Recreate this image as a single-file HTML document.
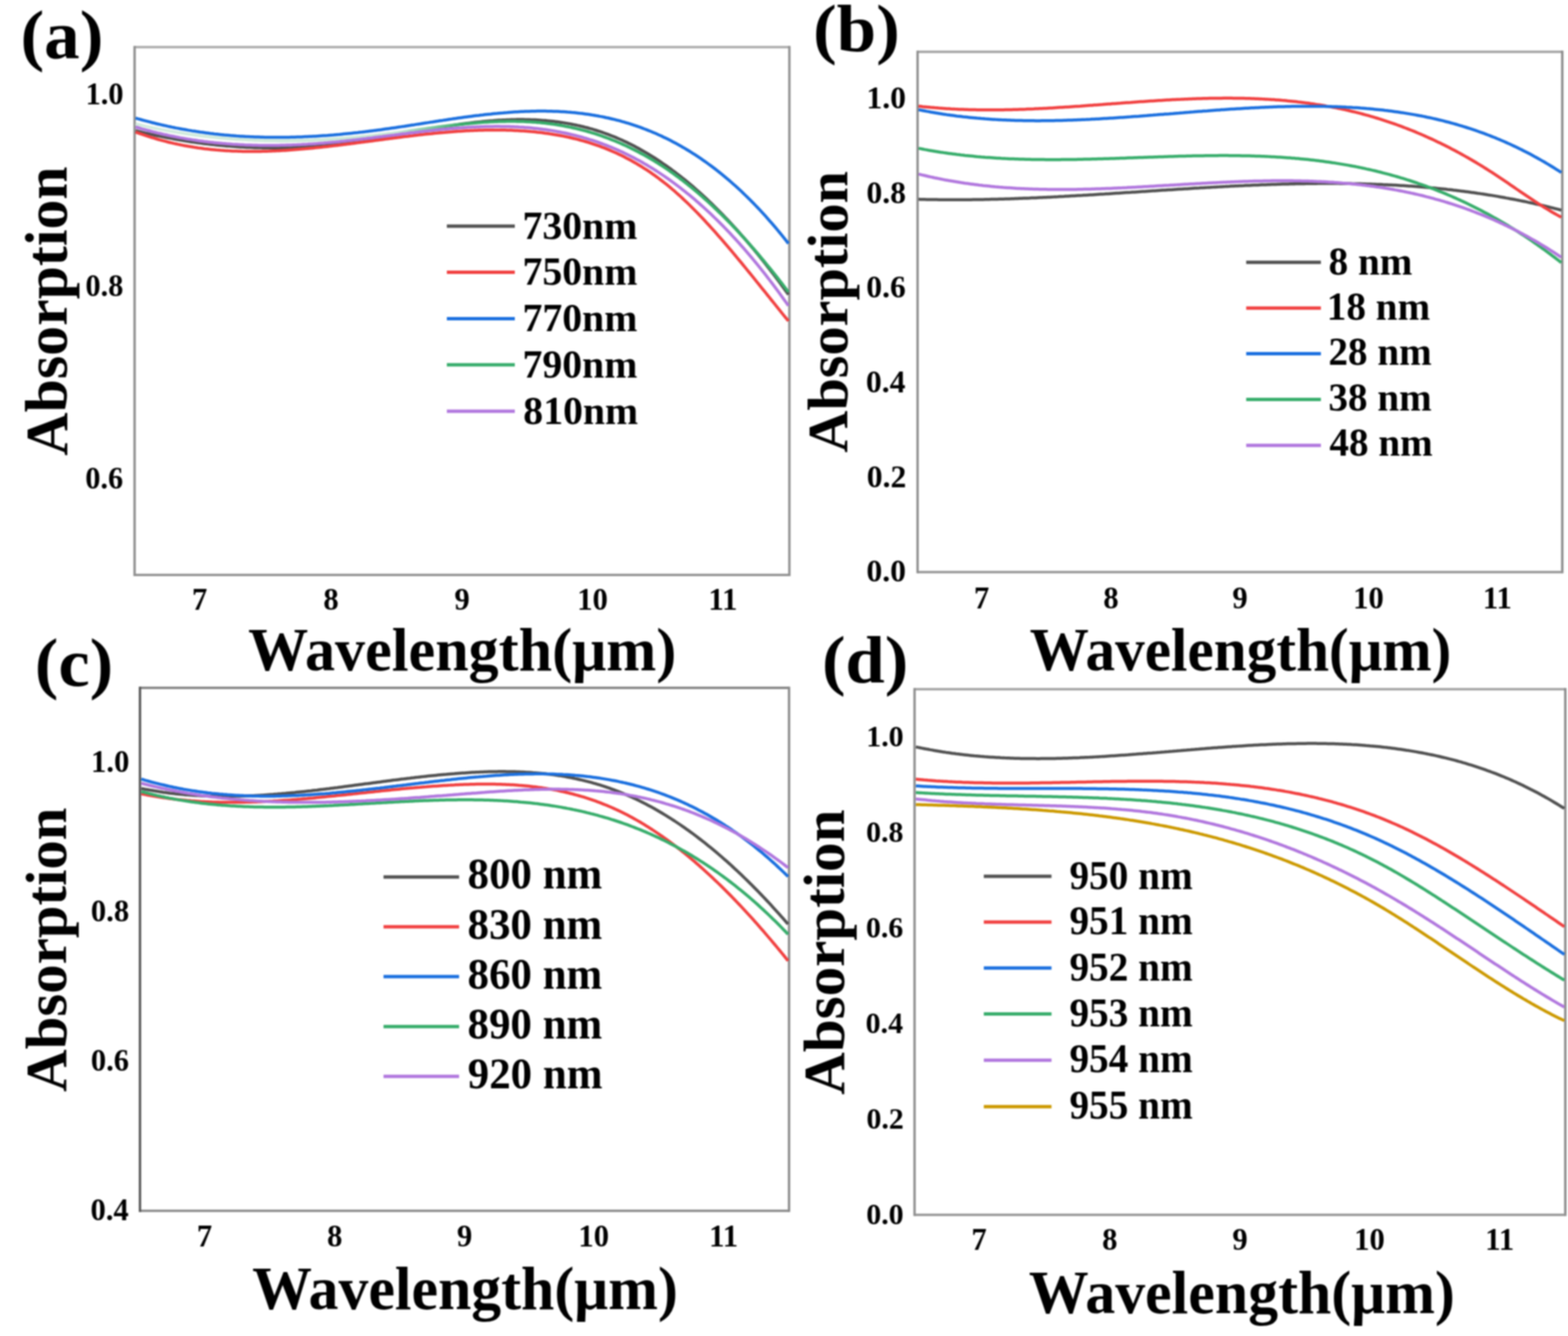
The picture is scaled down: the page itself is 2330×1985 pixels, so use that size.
<!DOCTYPE html>
<html><head><meta charset="utf-8"><title>Absorption spectra</title>
<style>html,body{margin:0;padding:0;background:#fff;} svg{display:block;filter:blur(0.8px)} text{font-family:'Liberation Serif', 'Times New Roman', serif;font-weight:bold;fill:#000}</style>
</head><body>
<svg xmlns="http://www.w3.org/2000/svg" width="2330" height="1985" viewBox="0 0 2330 1985">
<rect width="2330" height="1985" fill="#fff"/>
<path d="M200,70H1173" stroke="#a8a8a8" stroke-width="3.5" fill="none"/>
<path d="M1173,68.25V856.05" stroke="#909090" stroke-width="3.5" fill="none"/>
<path d="M200,854.3H1173" stroke="#909090" stroke-width="3.5" fill="none"/>
<path d="M200,68.25V856.05" stroke="#8e8e8e" stroke-width="3.5" fill="none"/>
<defs><linearGradient id="ga" gradientUnits="userSpaceOnUse" x1="200" y1="0" x2="1173" y2="0"><stop offset="0" stop-color="#d3ecdf"/><stop offset="0.40" stop-color="#c8e8d6"/><stop offset="0.50" stop-color="#37AD6B"/><stop offset="1" stop-color="#37AD6B"/></linearGradient></defs>
<path d="M201.5,194.3 L204.5,195.0 L207.5,195.7 L210.5,196.5 L213.5,197.2 L216.5,197.9 L219.5,198.5 L222.5,199.2 L225.5,199.9 L228.5,200.5 L231.5,201.2 L234.5,201.8 L237.5,202.4 L240.5,203.0 L243.5,203.6 L246.5,204.2 L249.5,204.8 L252.5,205.4 L255.5,205.9 L258.5,206.5 L261.5,207.0 L264.5,207.5 L267.5,208.1 L270.5,208.6 L273.5,209.0 L276.5,209.5 L279.5,210.0 L282.5,210.5 L285.5,210.9 L288.5,211.3 L291.5,211.8 L294.5,212.2 L297.5,212.6 L300.5,213.0 L303.5,213.4 L306.5,213.7 L309.5,214.1 L312.5,214.4 L315.5,214.8 L318.5,215.1 L321.5,215.4 L324.5,215.7 L327.5,216.0 L330.5,216.3 L333.5,216.6 L336.5,216.9 L339.5,217.1 L342.5,217.3 L345.5,217.6 L348.5,217.8 L351.5,218.0 L354.5,218.2 L357.5,218.4 L360.5,218.6 L363.5,218.7 L366.5,218.9 L369.5,219.0 L372.5,219.1 L375.5,219.3 L378.5,219.4 L381.5,219.5 L384.5,219.6 L387.5,219.6 L390.5,219.7 L393.5,219.7 L396.5,219.8 L399.5,219.8 L402.5,219.8 L405.5,219.8 L408.5,219.8 L411.5,219.8 L414.5,219.8 L417.5,219.8 L420.5,219.7 L423.5,219.7 L426.5,219.6 L429.5,219.5 L432.5,219.4 L435.5,219.3 L438.5,219.2 L441.5,219.1 L444.5,218.9 L447.5,218.8 L450.5,218.6 L453.5,218.5 L456.5,218.3 L459.5,218.1 L462.5,217.9 L465.5,217.7 L468.5,217.5 L471.5,217.2 L474.5,217.0 L477.5,216.7 L480.5,216.4 L483.5,216.2 L486.5,215.9 L489.5,215.6 L492.5,215.3 L495.5,214.9 L498.5,214.6 L501.5,214.2 L504.5,213.9 L507.5,213.5 L510.5,213.1 L513.5,212.7 L516.5,212.3 L519.5,211.9 L522.5,211.5 L525.5,211.1 L528.5,210.6 L531.5,210.2 L534.5,209.7 L537.5,209.3 L540.5,208.8 L543.5,208.3 L546.5,207.9 L549.5,207.4 L552.5,206.9 L555.5,206.4 L558.5,205.9 L561.5,205.4 L564.5,204.9 L567.5,204.4 L570.5,203.8 L573.5,203.3 L576.5,202.8 L579.5,202.3 L582.5,201.7 L585.5,201.2 L588.5,200.6 L591.5,200.1 L594.5,199.6 L597.5,199.0 L600.5,198.5 L603.5,198.0 L606.5,197.4 L609.5,196.9 L612.5,196.3 L615.5,195.8 L618.5,195.3 L621.5,194.7 L624.5,194.2 L627.5,193.7 L630.5,193.1 L633.5,192.6 L636.5,192.1 L639.5,191.6 L642.5,191.1 L645.5,190.6 L648.5,190.1 L651.5,189.6 L654.5,189.1 L657.5,188.6 L660.5,188.1 L663.5,187.6 L666.5,187.2 L669.5,186.7 L672.5,186.2 L675.5,185.8 L678.5,185.4 L681.5,184.9 L684.5,184.5 L687.5,184.1 L690.5,183.7 L693.5,183.3 L696.5,182.9 L699.5,182.6 L702.5,182.2 L705.5,181.8 L708.5,181.5 L711.5,181.2 L714.5,180.9 L717.5,180.6 L720.5,180.3 L723.5,180.0 L726.5,179.7 L729.5,179.5 L732.5,179.3 L735.5,179.0 L738.5,178.8 L741.5,178.6 L744.5,178.5 L747.5,178.3 L750.5,178.2 L753.5,178.0 L756.5,177.9 L759.5,177.8 L762.5,177.7 L765.5,177.7 L768.5,177.6 L771.5,177.6 L774.5,177.6 L777.5,177.6 L780.5,177.7 L783.5,177.7 L786.5,177.8 L789.5,177.9 L792.5,178.0 L795.5,178.1 L798.5,178.3 L801.5,178.5 L804.5,178.7 L807.5,178.9 L810.5,179.1 L813.5,179.4 L816.5,179.7 L819.5,180.0 L822.5,180.3 L825.5,180.7 L828.5,181.1 L831.5,181.5 L834.5,181.9 L837.5,182.4 L840.5,182.9 L843.5,183.4 L846.5,183.9 L849.5,184.5 L852.5,185.1 L855.5,185.7 L858.5,186.4 L861.5,187.0 L864.5,187.8 L867.5,188.5 L870.5,189.3 L873.5,190.0 L876.5,190.9 L879.5,191.7 L882.5,192.6 L885.5,193.5 L888.5,194.5 L891.5,195.4 L894.5,196.4 L897.5,197.5 L900.5,198.6 L903.5,199.7 L906.5,200.8 L909.5,202.0 L912.5,203.2 L915.5,204.4 L918.5,205.7 L921.5,207.0 L924.5,208.3 L927.5,209.7 L930.5,211.1 L933.5,212.6 L936.5,214.0 L939.5,215.6 L942.5,217.1 L945.5,218.7 L948.5,220.3 L951.5,222.0 L954.5,223.7 L957.5,225.4 L960.5,227.1 L963.5,228.9 L966.5,230.8 L969.5,232.6 L972.5,234.5 L975.5,236.4 L978.5,238.4 L981.5,240.4 L984.5,242.5 L987.5,244.5 L990.5,246.6 L993.5,248.8 L996.5,250.9 L999.5,253.2 L1002.5,255.4 L1005.5,257.7 L1008.5,260.0 L1011.5,262.3 L1014.5,264.7 L1017.5,267.1 L1020.5,269.6 L1023.5,272.1 L1026.5,274.6 L1029.5,277.1 L1032.5,279.7 L1035.5,282.4 L1038.5,285.0 L1041.5,287.7 L1044.5,290.4 L1047.5,293.2 L1050.5,296.0 L1053.5,298.8 L1056.5,301.7 L1059.5,304.6 L1062.5,307.5 L1065.5,310.5 L1068.5,313.5 L1071.5,316.6 L1074.5,319.6 L1077.5,322.7 L1080.5,325.9 L1083.5,329.1 L1086.5,332.3 L1089.5,335.5 L1092.5,338.8 L1095.5,342.1 L1098.5,345.5 L1101.5,348.9 L1104.5,352.3 L1107.5,355.7 L1110.5,359.2 L1113.5,362.7 L1116.5,366.3 L1119.5,369.9 L1122.5,373.5 L1125.5,377.2 L1128.5,380.9 L1131.5,384.6 L1134.5,388.4 L1137.5,392.2 L1140.5,396.0 L1143.5,399.9 L1146.5,403.8 L1149.5,407.7 L1152.5,411.7 L1155.5,415.7 L1158.5,419.7 L1161.5,423.8 L1164.5,427.9 L1167.5,432.1 L1170.5,436.3 L1171.5,437.7" stroke="#515151" stroke-width="4.5" fill="none" stroke-linejoin="round"/>
<path d="M201.5,196.1 L204.5,197.3 L207.5,198.3 L210.5,199.4 L213.5,200.4 L216.5,201.4 L219.5,202.4 L222.5,203.4 L225.5,204.3 L228.5,205.2 L231.5,206.1 L234.5,207.0 L237.5,207.8 L240.5,208.6 L243.5,209.4 L246.5,210.2 L249.5,211.0 L252.5,211.7 L255.5,212.4 L258.5,213.1 L261.5,213.7 L264.5,214.4 L267.5,215.0 L270.5,215.6 L273.5,216.2 L276.5,216.7 L279.5,217.3 L282.5,217.8 L285.5,218.3 L288.5,218.8 L291.5,219.2 L294.5,219.7 L297.5,220.1 L300.5,220.5 L303.5,220.9 L306.5,221.2 L309.5,221.6 L312.5,221.9 L315.5,222.2 L318.5,222.5 L321.5,222.8 L324.5,223.0 L327.5,223.3 L330.5,223.5 L333.5,223.7 L336.5,223.9 L339.5,224.1 L342.5,224.2 L345.5,224.4 L348.5,224.5 L351.5,224.6 L354.5,224.7 L357.5,224.8 L360.5,224.9 L363.5,224.9 L366.5,225.0 L369.5,225.0 L372.5,225.0 L375.5,225.0 L378.5,225.0 L381.5,225.0 L384.5,224.9 L387.5,224.9 L390.5,224.8 L393.5,224.7 L396.5,224.7 L399.5,224.6 L402.5,224.4 L405.5,224.3 L408.5,224.2 L411.5,224.1 L414.5,223.9 L417.5,223.7 L420.5,223.6 L423.5,223.4 L426.5,223.2 L429.5,223.0 L432.5,222.8 L435.5,222.6 L438.5,222.3 L441.5,222.1 L444.5,221.8 L447.5,221.6 L450.5,221.3 L453.5,221.1 L456.5,220.8 L459.5,220.5 L462.5,220.2 L465.5,219.9 L468.5,219.6 L471.5,219.3 L474.5,219.0 L477.5,218.7 L480.5,218.3 L483.5,218.0 L486.5,217.7 L489.5,217.3 L492.5,217.0 L495.5,216.6 L498.5,216.3 L501.5,215.9 L504.5,215.5 L507.5,215.2 L510.5,214.8 L513.5,214.4 L516.5,214.1 L519.5,213.7 L522.5,213.3 L525.5,212.9 L528.5,212.5 L531.5,212.1 L534.5,211.7 L537.5,211.3 L540.5,211.0 L543.5,210.6 L546.5,210.2 L549.5,209.8 L552.5,209.4 L555.5,209.0 L558.5,208.6 L561.5,208.2 L564.5,207.8 L567.5,207.4 L570.5,207.0 L573.5,206.6 L576.5,206.2 L579.5,205.8 L582.5,205.4 L585.5,205.0 L588.5,204.7 L591.5,204.3 L594.5,203.9 L597.5,203.5 L600.5,203.1 L603.5,202.8 L606.5,202.4 L609.5,202.0 L612.5,201.7 L615.5,201.3 L618.5,201.0 L621.5,200.6 L624.5,200.3 L627.5,200.0 L630.5,199.6 L633.5,199.3 L636.5,199.0 L639.5,198.7 L642.5,198.4 L645.5,198.1 L648.5,197.8 L651.5,197.5 L654.5,197.2 L657.5,196.9 L660.5,196.7 L663.5,196.4 L666.5,196.2 L669.5,195.9 L672.5,195.7 L675.5,195.5 L678.5,195.3 L681.5,195.1 L684.5,194.9 L687.5,194.7 L690.5,194.5 L693.5,194.3 L696.5,194.2 L699.5,194.0 L702.5,193.9 L705.5,193.8 L708.5,193.7 L711.5,193.6 L714.5,193.5 L717.5,193.4 L720.5,193.3 L723.5,193.3 L726.5,193.2 L729.5,193.2 L732.5,193.2 L735.5,193.2 L738.5,193.2 L741.5,193.2 L744.5,193.2 L747.5,193.3 L750.5,193.3 L753.5,193.4 L756.5,193.5 L759.5,193.6 L762.5,193.7 L765.5,193.9 L768.5,194.0 L771.5,194.2 L774.5,194.4 L777.5,194.6 L780.5,194.8 L783.5,195.0 L786.5,195.3 L789.5,195.6 L792.5,195.8 L795.5,196.1 L798.5,196.5 L801.5,196.8 L804.5,197.1 L807.5,197.5 L810.5,197.9 L813.5,198.3 L816.5,198.8 L819.5,199.2 L822.5,199.7 L825.5,200.2 L828.5,200.7 L831.5,201.2 L834.5,201.8 L837.5,202.4 L840.5,203.0 L843.5,203.6 L846.5,204.3 L849.5,205.0 L852.5,205.7 L855.5,206.4 L858.5,207.2 L861.5,208.0 L864.5,208.8 L867.5,209.6 L870.5,210.5 L873.5,211.4 L876.5,212.3 L879.5,213.3 L882.5,214.3 L885.5,215.3 L888.5,216.4 L891.5,217.4 L894.5,218.6 L897.5,219.7 L900.5,220.9 L903.5,222.1 L906.5,223.4 L909.5,224.7 L912.5,226.0 L915.5,227.3 L918.5,228.7 L921.5,230.1 L924.5,231.6 L927.5,233.1 L930.5,234.7 L933.5,236.2 L936.5,237.8 L939.5,239.5 L942.5,241.2 L945.5,242.9 L948.5,244.7 L951.5,246.5 L954.5,248.4 L957.5,250.3 L960.5,252.2 L963.5,254.2 L966.5,256.2 L969.5,258.3 L972.5,260.4 L975.5,262.6 L978.5,264.8 L981.5,267.1 L984.5,269.4 L987.5,271.7 L990.5,274.1 L993.5,276.5 L996.5,279.0 L999.5,281.6 L1002.5,284.1 L1005.5,286.8 L1008.5,289.5 L1011.5,292.2 L1014.5,295.0 L1017.5,297.8 L1020.5,300.6 L1023.5,303.5 L1026.5,306.5 L1029.5,309.5 L1032.5,312.5 L1035.5,315.5 L1038.5,318.6 L1041.5,321.8 L1044.5,324.9 L1047.5,328.1 L1050.5,331.4 L1053.5,334.6 L1056.5,337.9 L1059.5,341.2 L1062.5,344.6 L1065.5,348.0 L1068.5,351.4 L1071.5,354.8 L1074.5,358.3 L1077.5,361.8 L1080.5,365.3 L1083.5,368.8 L1086.5,372.3 L1089.5,375.9 L1092.5,379.5 L1095.5,383.1 L1098.5,386.7 L1101.5,390.3 L1104.5,394.0 L1107.5,397.6 L1110.5,401.3 L1113.5,405.0 L1116.5,408.7 L1119.5,412.4 L1122.5,416.1 L1125.5,419.8 L1128.5,423.5 L1131.5,427.3 L1134.5,431.0 L1137.5,434.7 L1140.5,438.5 L1143.5,442.2 L1146.5,446.0 L1149.5,449.7 L1152.5,453.4 L1155.5,457.2 L1158.5,460.9 L1161.5,464.6 L1164.5,468.3 L1167.5,472.0 L1170.5,475.7 L1171.5,477.0" stroke="#F14040" stroke-width="4.5" fill="none" stroke-linejoin="round"/>
<path d="M201.5,175.4 L204.5,176.3 L207.5,177.1 L210.5,178.0 L213.5,178.8 L216.5,179.6 L219.5,180.4 L222.5,181.2 L225.5,182.0 L228.5,182.7 L231.5,183.5 L234.5,184.2 L237.5,184.9 L240.5,185.6 L243.5,186.3 L246.5,186.9 L249.5,187.6 L252.5,188.2 L255.5,188.9 L258.5,189.5 L261.5,190.1 L264.5,190.6 L267.5,191.2 L270.5,191.8 L273.5,192.3 L276.5,192.8 L279.5,193.4 L282.5,193.9 L285.5,194.4 L288.5,194.8 L291.5,195.3 L294.5,195.7 L297.5,196.2 L300.5,196.6 L303.5,197.0 L306.5,197.4 L309.5,197.8 L312.5,198.2 L315.5,198.5 L318.5,198.9 L321.5,199.2 L324.5,199.6 L327.5,199.9 L330.5,200.2 L333.5,200.5 L336.5,200.7 L339.5,201.0 L342.5,201.3 L345.5,201.5 L348.5,201.7 L351.5,202.0 L354.5,202.2 L357.5,202.4 L360.5,202.5 L363.5,202.7 L366.5,202.9 L369.5,203.0 L372.5,203.2 L375.5,203.3 L378.5,203.4 L381.5,203.5 L384.5,203.6 L387.5,203.7 L390.5,203.8 L393.5,203.9 L396.5,203.9 L399.5,204.0 L402.5,204.0 L405.5,204.0 L408.5,204.0 L411.5,204.0 L414.5,204.0 L417.5,204.0 L420.5,204.0 L423.5,204.0 L426.5,203.9 L429.5,203.9 L432.5,203.8 L435.5,203.7 L438.5,203.7 L441.5,203.6 L444.5,203.5 L447.5,203.4 L450.5,203.2 L453.5,203.1 L456.5,203.0 L459.5,202.8 L462.5,202.7 L465.5,202.5 L468.5,202.4 L471.5,202.2 L474.5,202.0 L477.5,201.8 L480.5,201.6 L483.5,201.4 L486.5,201.2 L489.5,200.9 L492.5,200.7 L495.5,200.5 L498.5,200.2 L501.5,199.9 L504.5,199.7 L507.5,199.4 L510.5,199.1 L513.5,198.8 L516.5,198.5 L519.5,198.2 L522.5,197.9 L525.5,197.6 L528.5,197.3 L531.5,197.0 L534.5,196.6 L537.5,196.3 L540.5,195.9 L543.5,195.6 L546.5,195.2 L549.5,194.8 L552.5,194.4 L555.5,194.1 L558.5,193.7 L561.5,193.3 L564.5,192.9 L567.5,192.5 L570.5,192.0 L573.5,191.6 L576.5,191.2 L579.5,190.8 L582.5,190.3 L585.5,189.9 L588.5,189.5 L591.5,189.0 L594.5,188.6 L597.5,188.1 L600.5,187.7 L603.5,187.2 L606.5,186.7 L609.5,186.3 L612.5,185.8 L615.5,185.4 L618.5,184.9 L621.5,184.4 L624.5,184.0 L627.5,183.5 L630.5,183.0 L633.5,182.6 L636.5,182.1 L639.5,181.6 L642.5,181.2 L645.5,180.7 L648.5,180.2 L651.5,179.8 L654.5,179.3 L657.5,178.9 L660.5,178.4 L663.5,178.0 L666.5,177.5 L669.5,177.1 L672.5,176.6 L675.5,176.2 L678.5,175.8 L681.5,175.3 L684.5,174.9 L687.5,174.5 L690.5,174.1 L693.5,173.7 L696.5,173.3 L699.5,172.9 L702.5,172.5 L705.5,172.1 L708.5,171.7 L711.5,171.4 L714.5,171.0 L717.5,170.7 L720.5,170.3 L723.5,170.0 L726.5,169.7 L729.5,169.4 L732.5,169.0 L735.5,168.7 L738.5,168.5 L741.5,168.2 L744.5,167.9 L747.5,167.7 L750.5,167.4 L753.5,167.2 L756.5,166.9 L759.5,166.7 L762.5,166.5 L765.5,166.3 L768.5,166.2 L771.5,166.0 L774.5,165.8 L777.5,165.7 L780.5,165.6 L783.5,165.5 L786.5,165.4 L789.5,165.3 L792.5,165.2 L795.5,165.2 L798.5,165.1 L801.5,165.1 L804.5,165.1 L807.5,165.1 L810.5,165.1 L813.5,165.2 L816.5,165.2 L819.5,165.3 L822.5,165.4 L825.5,165.5 L828.5,165.6 L831.5,165.8 L834.5,166.0 L837.5,166.1 L840.5,166.3 L843.5,166.6 L846.5,166.8 L849.5,167.1 L852.5,167.3 L855.5,167.6 L858.5,167.9 L861.5,168.3 L864.5,168.6 L867.5,169.0 L870.5,169.4 L873.5,169.8 L876.5,170.3 L879.5,170.8 L882.5,171.2 L885.5,171.8 L888.5,172.3 L891.5,172.9 L894.5,173.4 L897.5,174.0 L900.5,174.7 L903.5,175.3 L906.5,176.0 L909.5,176.7 L912.5,177.4 L915.5,178.2 L918.5,178.9 L921.5,179.7 L924.5,180.6 L927.5,181.4 L930.5,182.3 L933.5,183.2 L936.5,184.1 L939.5,185.1 L942.5,186.1 L945.5,187.1 L948.5,188.2 L951.5,189.2 L954.5,190.3 L957.5,191.5 L960.5,192.6 L963.5,193.8 L966.5,195.0 L969.5,196.3 L972.5,197.5 L975.5,198.8 L978.5,200.2 L981.5,201.5 L984.5,202.9 L987.5,204.4 L990.5,205.8 L993.5,207.3 L996.5,208.8 L999.5,210.4 L1002.5,212.0 L1005.5,213.6 L1008.5,215.3 L1011.5,216.9 L1014.5,218.7 L1017.5,220.4 L1020.5,222.2 L1023.5,224.0 L1026.5,225.9 L1029.5,227.8 L1032.5,229.7 L1035.5,231.7 L1038.5,233.7 L1041.5,235.7 L1044.5,237.8 L1047.5,239.9 L1050.5,242.0 L1053.5,244.2 L1056.5,246.4 L1059.5,248.6 L1062.5,250.9 L1065.5,253.3 L1068.5,255.6 L1071.5,258.0 L1074.5,260.5 L1077.5,263.0 L1080.5,265.5 L1083.5,268.0 L1086.5,270.6 L1089.5,273.3 L1092.5,275.9 L1095.5,278.7 L1098.5,281.4 L1101.5,284.2 L1104.5,287.1 L1107.5,290.0 L1110.5,292.9 L1113.5,295.8 L1116.5,298.9 L1119.5,301.9 L1122.5,305.0 L1125.5,308.1 L1128.5,311.3 L1131.5,314.5 L1134.5,317.8 L1137.5,321.1 L1140.5,324.5 L1143.5,327.9 L1146.5,331.3 L1149.5,334.8 L1152.5,338.3 L1155.5,341.9 L1158.5,345.5 L1161.5,349.2 L1164.5,352.9 L1167.5,356.7 L1170.5,360.5 L1171.5,361.8" stroke="#1A6FDF" stroke-width="4.5" fill="none" stroke-linejoin="round"/>
<path d="M201.5,184.1 L204.5,184.8 L207.5,185.5 L210.5,186.2 L213.5,186.9 L216.5,187.6 L219.5,188.2 L222.5,188.9 L225.5,189.5 L228.5,190.1 L231.5,190.8 L234.5,191.4 L237.5,192.0 L240.5,192.6 L243.5,193.1 L246.5,193.7 L249.5,194.2 L252.5,194.8 L255.5,195.3 L258.5,195.8 L261.5,196.4 L264.5,196.9 L267.5,197.3 L270.5,197.8 L273.5,198.3 L276.5,198.7 L279.5,199.2 L282.5,199.6 L285.5,200.1 L288.5,200.5 L291.5,200.9 L294.5,201.3 L297.5,201.7 L300.5,202.0 L303.5,202.4 L306.5,202.8 L309.5,203.1 L312.5,203.4 L315.5,203.8 L318.5,204.1 L321.5,204.4 L324.5,204.7 L327.5,205.0 L330.5,205.2 L333.5,205.5 L336.5,205.8 L339.5,206.0 L342.5,206.2 L345.5,206.5 L348.5,206.7 L351.5,206.9 L354.5,207.1 L357.5,207.3 L360.5,207.5 L363.5,207.6 L366.5,207.8 L369.5,208.0 L372.5,208.1 L375.5,208.2 L378.5,208.4 L381.5,208.5 L384.5,208.6 L387.5,208.7 L390.5,208.8 L393.5,208.9 L396.5,208.9 L399.5,209.0 L402.5,209.0 L405.5,209.1 L408.5,209.1 L411.5,209.2 L414.5,209.2 L417.5,209.2 L420.5,209.2 L423.5,209.2 L426.5,209.2 L429.5,209.1 L432.5,209.1 L435.5,209.1 L438.5,209.0 L441.5,209.0 L444.5,208.9 L447.5,208.8 L450.5,208.8 L453.5,208.7 L456.5,208.6 L459.5,208.5 L462.5,208.4 L465.5,208.2 L468.5,208.1 L471.5,208.0 L474.5,207.8 L477.5,207.7 L480.5,207.5 L483.5,207.4 L486.5,207.2 L489.5,207.0 L492.5,206.8 L495.5,206.6 L498.5,206.4 L501.5,206.2 L504.5,206.0 L507.5,205.7 L510.5,205.5 L513.5,205.3 L516.5,205.0 L519.5,204.8 L522.5,204.5 L525.5,204.2 L528.5,204.0 L531.5,203.7 L534.5,203.4 L537.5,203.1 L540.5,202.8 L543.5,202.5 L546.5,202.2 L549.5,201.8 L552.5,201.5 L555.5,201.2 L558.5,200.8 L561.5,200.5 L564.5,200.1 L567.5,199.8 L570.5,199.4 L573.5,199.0 L576.5,198.6 L579.5,198.2 L582.5,197.9 L585.5,197.5 L588.5,197.1 L591.5,196.7 L594.5,196.3 L597.5,195.9 L600.5,195.5 L603.5,195.1 L606.5,194.6 L609.5,194.2 L612.5,193.8 L615.5,193.4 L618.5,193.0 L621.5,192.6 L624.5,192.2 L627.5,191.8 L630.5,191.4 L633.5,191.0 L636.5,190.6 L639.5,190.2 L642.5,189.8 L645.5,189.4 L648.5,189.0 L651.5,188.6 L654.5,188.2 L657.5,187.8 L660.5,187.4 L663.5,187.1 L666.5,186.7 L669.5,186.4 L672.5,186.0 L675.5,185.7 L678.5,185.3 L681.5,185.0 L684.5,184.7 L687.5,184.4 L690.5,184.1 L693.5,183.8 L696.5,183.5 L699.5,183.2 L702.5,182.9 L705.5,182.7 L708.5,182.4 L711.5,182.2 L714.5,182.0 L717.5,181.8 L720.5,181.6 L723.5,181.4 L726.5,181.2 L729.5,181.1 L732.5,180.9 L735.5,180.8 L738.5,180.7 L741.5,180.6 L744.5,180.5 L747.5,180.4 L750.5,180.4 L753.5,180.3 L756.5,180.3 L759.5,180.3 L762.5,180.3 L765.5,180.3 L768.5,180.4 L771.5,180.4 L774.5,180.5 L777.5,180.6 L780.5,180.7 L783.5,180.9 L786.5,181.0 L789.5,181.2 L792.5,181.4 L795.5,181.6 L798.5,181.9 L801.5,182.1 L804.5,182.4 L807.5,182.7 L810.5,183.1 L813.5,183.4 L816.5,183.8 L819.5,184.2 L822.5,184.6 L825.5,185.1 L828.5,185.5 L831.5,186.0 L834.5,186.5 L837.5,187.1 L840.5,187.7 L843.5,188.2 L846.5,188.9 L849.5,189.5 L852.5,190.2 L855.5,190.9 L858.5,191.6 L861.5,192.3 L864.5,193.1 L867.5,193.9 L870.5,194.7 L873.5,195.5 L876.5,196.4 L879.5,197.3 L882.5,198.2 L885.5,199.2 L888.5,200.2 L891.5,201.2 L894.5,202.2 L897.5,203.3 L900.5,204.4 L903.5,205.5 L906.5,206.6 L909.5,207.8 L912.5,209.0 L915.5,210.2 L918.5,211.5 L921.5,212.8 L924.5,214.1 L927.5,215.5 L930.5,216.8 L933.5,218.3 L936.5,219.7 L939.5,221.2 L942.5,222.7 L945.5,224.2 L948.5,225.8 L951.5,227.4 L954.5,229.0 L957.5,230.6 L960.5,232.3 L963.5,234.0 L966.5,235.8 L969.5,237.6 L972.5,239.4 L975.5,241.2 L978.5,243.1 L981.5,245.0 L984.5,247.0 L987.5,249.0 L990.5,251.0 L993.5,253.0 L996.5,255.1 L999.5,257.2 L1002.5,259.4 L1005.5,261.6 L1008.5,263.8 L1011.5,266.1 L1014.5,268.3 L1017.5,270.7 L1020.5,273.0 L1023.5,275.4 L1026.5,277.8 L1029.5,280.3 L1032.5,282.8 L1035.5,285.3 L1038.5,287.9 L1041.5,290.4 L1044.5,293.1 L1047.5,295.7 L1050.5,298.4 L1053.5,301.1 L1056.5,303.9 L1059.5,306.7 L1062.5,309.5 L1065.5,312.4 L1068.5,315.3 L1071.5,318.2 L1074.5,321.1 L1077.5,324.1 L1080.5,327.1 L1083.5,330.2 L1086.5,333.3 L1089.5,336.4 L1092.5,339.5 L1095.5,342.7 L1098.5,345.9 L1101.5,349.2 L1104.5,352.5 L1107.5,355.8 L1110.5,359.1 L1113.5,362.5 L1116.5,365.9 L1119.5,369.3 L1122.5,372.8 L1125.5,376.3 L1128.5,379.8 L1131.5,383.4 L1134.5,387.0 L1137.5,390.6 L1140.5,394.3 L1143.5,397.9 L1146.5,401.7 L1149.5,405.4 L1152.5,409.2 L1155.5,413.0 L1158.5,416.8 L1161.5,420.7 L1164.5,424.6 L1167.5,428.5 L1170.5,432.5 L1171.5,433.8" stroke="url(#ga)" stroke-width="4.5" fill="none" stroke-linejoin="round"/>
<path d="M201.5,188.6 L204.5,189.5 L207.5,190.4 L210.5,191.3 L213.5,192.1 L216.5,192.9 L219.5,193.8 L222.5,194.5 L225.5,195.3 L228.5,196.1 L231.5,196.8 L234.5,197.6 L237.5,198.3 L240.5,199.0 L243.5,199.7 L246.5,200.3 L249.5,201.0 L252.5,201.6 L255.5,202.2 L258.5,202.8 L261.5,203.4 L264.5,204.0 L267.5,204.6 L270.5,205.1 L273.5,205.6 L276.5,206.2 L279.5,206.7 L282.5,207.1 L285.5,207.6 L288.5,208.1 L291.5,208.5 L294.5,209.0 L297.5,209.4 L300.5,209.8 L303.5,210.2 L306.5,210.5 L309.5,210.9 L312.5,211.3 L315.5,211.6 L318.5,211.9 L321.5,212.2 L324.5,212.5 L327.5,212.8 L330.5,213.1 L333.5,213.3 L336.5,213.6 L339.5,213.8 L342.5,214.0 L345.5,214.3 L348.5,214.4 L351.5,214.6 L354.5,214.8 L357.5,215.0 L360.5,215.1 L363.5,215.3 L366.5,215.4 L369.5,215.5 L372.5,215.6 L375.5,215.7 L378.5,215.8 L381.5,215.8 L384.5,215.9 L387.5,215.9 L390.5,216.0 L393.5,216.0 L396.5,216.0 L399.5,216.0 L402.5,216.0 L405.5,216.0 L408.5,216.0 L411.5,215.9 L414.5,215.9 L417.5,215.8 L420.5,215.8 L423.5,215.7 L426.5,215.6 L429.5,215.5 L432.5,215.4 L435.5,215.3 L438.5,215.2 L441.5,215.1 L444.5,214.9 L447.5,214.8 L450.5,214.6 L453.5,214.4 L456.5,214.3 L459.5,214.1 L462.5,213.9 L465.5,213.7 L468.5,213.5 L471.5,213.3 L474.5,213.0 L477.5,212.8 L480.5,212.6 L483.5,212.3 L486.5,212.1 L489.5,211.8 L492.5,211.5 L495.5,211.2 L498.5,211.0 L501.5,210.7 L504.5,210.4 L507.5,210.1 L510.5,209.8 L513.5,209.4 L516.5,209.1 L519.5,208.8 L522.5,208.4 L525.5,208.1 L528.5,207.8 L531.5,207.4 L534.5,207.1 L537.5,206.7 L540.5,206.3 L543.5,206.0 L546.5,205.6 L549.5,205.2 L552.5,204.9 L555.5,204.5 L558.5,204.1 L561.5,203.7 L564.5,203.3 L567.5,203.0 L570.5,202.6 L573.5,202.2 L576.5,201.8 L579.5,201.4 L582.5,201.0 L585.5,200.7 L588.5,200.3 L591.5,199.9 L594.5,199.5 L597.5,199.1 L600.5,198.7 L603.5,198.4 L606.5,198.0 L609.5,197.6 L612.5,197.2 L615.5,196.9 L618.5,196.5 L621.5,196.2 L624.5,195.8 L627.5,195.5 L630.5,195.1 L633.5,194.8 L636.5,194.4 L639.5,194.1 L642.5,193.8 L645.5,193.4 L648.5,193.1 L651.5,192.8 L654.5,192.5 L657.5,192.2 L660.5,191.9 L663.5,191.7 L666.5,191.4 L669.5,191.1 L672.5,190.9 L675.5,190.6 L678.5,190.4 L681.5,190.1 L684.5,189.9 L687.5,189.7 L690.5,189.5 L693.5,189.3 L696.5,189.1 L699.5,189.0 L702.5,188.8 L705.5,188.7 L708.5,188.5 L711.5,188.4 L714.5,188.3 L717.5,188.2 L720.5,188.1 L723.5,188.0 L726.5,188.0 L729.5,187.9 L732.5,187.9 L735.5,187.8 L738.5,187.8 L741.5,187.8 L744.5,187.9 L747.5,187.9 L750.5,187.9 L753.5,188.0 L756.5,188.1 L759.5,188.2 L762.5,188.3 L765.5,188.4 L768.5,188.6 L771.5,188.8 L774.5,188.9 L777.5,189.1 L780.5,189.4 L783.5,189.6 L786.5,189.8 L789.5,190.1 L792.5,190.4 L795.5,190.7 L798.5,191.0 L801.5,191.4 L804.5,191.8 L807.5,192.2 L810.5,192.6 L813.5,193.0 L816.5,193.4 L819.5,193.9 L822.5,194.4 L825.5,194.9 L828.5,195.5 L831.5,196.0 L834.5,196.6 L837.5,197.2 L840.5,197.8 L843.5,198.5 L846.5,199.2 L849.5,199.9 L852.5,200.6 L855.5,201.3 L858.5,202.1 L861.5,202.9 L864.5,203.7 L867.5,204.6 L870.5,205.4 L873.5,206.3 L876.5,207.3 L879.5,208.2 L882.5,209.2 L885.5,210.2 L888.5,211.2 L891.5,212.3 L894.5,213.4 L897.5,214.5 L900.5,215.6 L903.5,216.8 L906.5,218.0 L909.5,219.2 L912.5,220.5 L915.5,221.8 L918.5,223.1 L921.5,224.5 L924.5,225.8 L927.5,227.3 L930.5,228.7 L933.5,230.2 L936.5,231.7 L939.5,233.2 L942.5,234.8 L945.5,236.4 L948.5,238.0 L951.5,239.6 L954.5,241.3 L957.5,243.1 L960.5,244.8 L963.5,246.6 L966.5,248.4 L969.5,250.2 L972.5,252.1 L975.5,254.0 L978.5,256.0 L981.5,258.0 L984.5,260.0 L987.5,262.0 L990.5,264.1 L993.5,266.2 L996.5,268.3 L999.5,270.5 L1002.5,272.7 L1005.5,275.0 L1008.5,277.2 L1011.5,279.5 L1014.5,281.9 L1017.5,284.2 L1020.5,286.7 L1023.5,289.1 L1026.5,291.6 L1029.5,294.1 L1032.5,296.6 L1035.5,299.2 L1038.5,301.8 L1041.5,304.5 L1044.5,307.2 L1047.5,309.9 L1050.5,312.6 L1053.5,315.4 L1056.5,318.2 L1059.5,321.1 L1062.5,324.0 L1065.5,326.9 L1068.5,329.9 L1071.5,332.9 L1074.5,335.9 L1077.5,339.0 L1080.5,342.1 L1083.5,345.3 L1086.5,348.4 L1089.5,351.7 L1092.5,354.9 L1095.5,358.2 L1098.5,361.5 L1101.5,364.9 L1104.5,368.3 L1107.5,371.7 L1110.5,375.2 L1113.5,378.7 L1116.5,382.3 L1119.5,385.9 L1122.5,389.5 L1125.5,393.2 L1128.5,396.9 L1131.5,400.6 L1134.5,404.4 L1137.5,408.2 L1140.5,412.1 L1143.5,416.0 L1146.5,419.9 L1149.5,423.9 L1152.5,427.9 L1155.5,431.9 L1158.5,436.0 L1161.5,440.2 L1164.5,444.3 L1167.5,448.5 L1170.5,452.8 L1171.5,454.2" stroke="#B177DE" stroke-width="4.5" fill="none" stroke-linejoin="round"/>
<text transform="translate(30.4,85.5) scale(1.037,1)" font-size="102.0">(a)</text>
<text transform="translate(127.3,155.0) scale(0.980,1)" font-size="46.0">1.0</text>
<text transform="translate(127.0,440.3) scale(0.980,1)" font-size="46.0">0.8</text>
<text transform="translate(126.8,726.0) scale(0.980,1)" font-size="46.0">0.6</text>
<text x="285.2" y="906.0" font-size="45.5">7</text>
<text x="480.5" y="906.0" font-size="45.5">8</text>
<text x="675.2" y="906.0" font-size="45.5">9</text>
<text x="857.8" y="906.0" font-size="45.5">10</text>
<text x="1052.8" y="906.0" font-size="45.5">11</text>
<text transform="translate(99.3,676.9) rotate(-90) scale(1.010,1)" font-size="88.0">Absorption</text>
<text transform="translate(368.7,995.5) scale(0.993,1)" font-size="90.0">Wavelength(μm)</text>
<path d="M664,336H765" stroke="#515151" stroke-width="5"/>
<path d="M664,404.6H765" stroke="#F14040" stroke-width="5"/>
<path d="M664,473.4H765" stroke="#1A6FDF" stroke-width="5"/>
<path d="M664,542H765" stroke="#37AD6B" stroke-width="5"/>
<path d="M664,611H765" stroke="#B177DE" stroke-width="5"/>
<text transform="translate(776.4,355.0) scale(0.985,1)" font-size="60.0">730nm</text>
<text transform="translate(776.4,423.3) scale(0.985,1)" font-size="60.0">750nm</text>
<text transform="translate(776.4,491.7) scale(0.985,1)" font-size="60.0">770nm</text>
<text transform="translate(776.4,561.0) scale(0.985,1)" font-size="60.0">790nm</text>
<text transform="translate(777.6,629.5) scale(0.985,1)" font-size="60.0">810nm</text>
<path d="M1363.5,77H2321.5" stroke="#a0a0a0" stroke-width="3.5" fill="none"/>
<path d="M2321.5,75.25V851.75" stroke="#8a8a8a" stroke-width="3.5" fill="none"/>
<path d="M1363.5,850H2321.5" stroke="#959595" stroke-width="3.5" fill="none"/>
<path d="M1363.5,75.25V851.75" stroke="#8e8e8e" stroke-width="3.5" fill="none"/>
<path d="M1365.0,296.1 L1368.0,296.2 L1371.0,296.2 L1374.0,296.3 L1377.0,296.4 L1380.0,296.4 L1383.0,296.5 L1386.0,296.5 L1389.0,296.6 L1392.0,296.6 L1395.0,296.7 L1398.0,296.7 L1401.0,296.7 L1404.0,296.7 L1407.0,296.8 L1410.0,296.8 L1413.0,296.8 L1416.0,296.8 L1419.0,296.8 L1422.0,296.8 L1425.0,296.8 L1428.0,296.8 L1431.0,296.8 L1434.0,296.7 L1437.0,296.7 L1440.0,296.7 L1443.0,296.7 L1446.0,296.6 L1449.0,296.6 L1452.0,296.5 L1455.0,296.5 L1458.0,296.4 L1461.0,296.4 L1464.0,296.3 L1467.0,296.3 L1470.0,296.2 L1473.0,296.1 L1476.0,296.1 L1479.0,296.0 L1482.0,295.9 L1485.0,295.8 L1488.0,295.7 L1491.0,295.7 L1494.0,295.6 L1497.0,295.5 L1500.0,295.4 L1503.0,295.3 L1506.0,295.2 L1509.0,295.1 L1512.0,295.0 L1515.0,294.8 L1518.0,294.7 L1521.0,294.6 L1524.0,294.5 L1527.0,294.4 L1530.0,294.3 L1533.0,294.1 L1536.0,294.0 L1539.0,293.9 L1542.0,293.7 L1545.0,293.6 L1548.0,293.5 L1551.0,293.3 L1554.0,293.2 L1557.0,293.0 L1560.0,292.9 L1563.0,292.7 L1566.0,292.6 L1569.0,292.4 L1572.0,292.3 L1575.0,292.1 L1578.0,291.9 L1581.0,291.8 L1584.0,291.6 L1587.0,291.5 L1590.0,291.3 L1593.0,291.1 L1596.0,291.0 L1599.0,290.8 L1602.0,290.6 L1605.0,290.4 L1608.0,290.3 L1611.0,290.1 L1614.0,289.9 L1617.0,289.7 L1620.0,289.5 L1623.0,289.4 L1626.0,289.2 L1629.0,289.0 L1632.0,288.8 L1635.0,288.6 L1638.0,288.4 L1641.0,288.3 L1644.0,288.1 L1647.0,287.9 L1650.0,287.7 L1653.0,287.5 L1656.0,287.3 L1659.0,287.1 L1662.0,286.9 L1665.0,286.7 L1668.0,286.5 L1671.0,286.3 L1674.0,286.1 L1677.0,285.9 L1680.0,285.8 L1683.0,285.6 L1686.0,285.4 L1689.0,285.2 L1692.0,285.0 L1695.0,284.8 L1698.0,284.6 L1701.0,284.4 L1704.0,284.2 L1707.0,284.0 L1710.0,283.8 L1713.0,283.6 L1716.0,283.4 L1719.0,283.2 L1722.0,283.0 L1725.0,282.8 L1728.0,282.6 L1731.0,282.4 L1734.0,282.2 L1737.0,282.0 L1740.0,281.9 L1743.0,281.7 L1746.0,281.5 L1749.0,281.3 L1752.0,281.1 L1755.0,280.9 L1758.0,280.7 L1761.0,280.5 L1764.0,280.4 L1767.0,280.2 L1770.0,280.0 L1773.0,279.8 L1776.0,279.6 L1779.0,279.4 L1782.0,279.3 L1785.0,279.1 L1788.0,278.9 L1791.0,278.7 L1794.0,278.6 L1797.0,278.4 L1800.0,278.2 L1803.0,278.1 L1806.0,277.9 L1809.0,277.7 L1812.0,277.6 L1815.0,277.4 L1818.0,277.2 L1821.0,277.1 L1824.0,276.9 L1827.0,276.8 L1830.0,276.6 L1833.0,276.5 L1836.0,276.3 L1839.0,276.2 L1842.0,276.0 L1845.0,275.9 L1848.0,275.8 L1851.0,275.6 L1854.0,275.5 L1857.0,275.4 L1860.0,275.2 L1863.0,275.1 L1866.0,275.0 L1869.0,274.9 L1872.0,274.7 L1875.0,274.6 L1878.0,274.5 L1881.0,274.4 L1884.0,274.3 L1887.0,274.2 L1890.0,274.1 L1893.0,274.0 L1896.0,273.9 L1899.0,273.8 L1902.0,273.7 L1905.0,273.6 L1908.0,273.5 L1911.0,273.5 L1914.0,273.4 L1917.0,273.3 L1920.0,273.2 L1923.0,273.2 L1926.0,273.1 L1929.0,273.0 L1932.0,273.0 L1935.0,272.9 L1938.0,272.9 L1941.0,272.8 L1944.0,272.8 L1947.0,272.8 L1950.0,272.7 L1953.0,272.7 L1956.0,272.7 L1959.0,272.6 L1962.0,272.6 L1965.0,272.6 L1968.0,272.6 L1971.0,272.6 L1974.0,272.6 L1977.0,272.6 L1980.0,272.6 L1983.0,272.6 L1986.0,272.6 L1989.0,272.6 L1992.0,272.7 L1995.0,272.7 L1998.0,272.7 L2001.0,272.8 L2004.0,272.8 L2007.0,272.8 L2010.0,272.9 L2013.0,273.0 L2016.0,273.0 L2019.0,273.1 L2022.0,273.1 L2025.0,273.2 L2028.0,273.3 L2031.0,273.4 L2034.0,273.5 L2037.0,273.6 L2040.0,273.7 L2043.0,273.8 L2046.0,273.9 L2049.0,274.0 L2052.0,274.1 L2055.0,274.3 L2058.0,274.4 L2061.0,274.5 L2064.0,274.7 L2067.0,274.8 L2070.0,275.0 L2073.0,275.1 L2076.0,275.3 L2079.0,275.5 L2082.0,275.7 L2085.0,275.8 L2088.0,276.0 L2091.0,276.2 L2094.0,276.4 L2097.0,276.6 L2100.0,276.8 L2103.0,277.1 L2106.0,277.3 L2109.0,277.5 L2112.0,277.8 L2115.0,278.0 L2118.0,278.3 L2121.0,278.5 L2124.0,278.8 L2127.0,279.1 L2130.0,279.3 L2133.0,279.6 L2136.0,279.9 L2139.0,280.2 L2142.0,280.5 L2145.0,280.8 L2148.0,281.1 L2151.0,281.5 L2154.0,281.8 L2157.0,282.1 L2160.0,282.5 L2163.0,282.8 L2166.0,283.2 L2169.0,283.6 L2172.0,283.9 L2175.0,284.3 L2178.0,284.7 L2181.0,285.1 L2184.0,285.5 L2187.0,285.9 L2190.0,286.3 L2193.0,286.7 L2196.0,287.2 L2199.0,287.6 L2202.0,288.1 L2205.0,288.5 L2208.0,289.0 L2211.0,289.5 L2214.0,289.9 L2217.0,290.4 L2220.0,290.9 L2223.0,291.4 L2226.0,291.9 L2229.0,292.5 L2232.0,293.0 L2235.0,293.5 L2238.0,294.1 L2241.0,294.6 L2244.0,295.2 L2247.0,295.7 L2250.0,296.3 L2253.0,296.9 L2256.0,297.5 L2259.0,298.1 L2262.0,298.7 L2265.0,299.3 L2268.0,299.9 L2271.0,300.6 L2274.0,301.2 L2277.0,301.9 L2280.0,302.5 L2283.0,303.2 L2286.0,303.9 L2289.0,304.6 L2292.0,305.3 L2295.0,306.0 L2298.0,306.7 L2301.0,307.4 L2304.0,308.2 L2307.0,308.9 L2310.0,309.7 L2313.0,310.4 L2316.0,311.2 L2319.0,312.0 L2320.0,312.2" stroke="#515151" stroke-width="4.5" fill="none" stroke-linejoin="round"/>
<path d="M1365.0,157.7 L1368.0,158.0 L1371.0,158.4 L1374.0,158.7 L1377.0,159.0 L1380.0,159.3 L1383.0,159.6 L1386.0,159.8 L1389.0,160.1 L1392.0,160.3 L1395.0,160.6 L1398.0,160.8 L1401.0,161.0 L1404.0,161.2 L1407.0,161.4 L1410.0,161.6 L1413.0,161.8 L1416.0,161.9 L1419.0,162.1 L1422.0,162.2 L1425.0,162.4 L1428.0,162.5 L1431.0,162.6 L1434.0,162.7 L1437.0,162.8 L1440.0,162.9 L1443.0,163.0 L1446.0,163.1 L1449.0,163.1 L1452.0,163.2 L1455.0,163.2 L1458.0,163.3 L1461.0,163.3 L1464.0,163.3 L1467.0,163.3 L1470.0,163.3 L1473.0,163.3 L1476.0,163.3 L1479.0,163.3 L1482.0,163.3 L1485.0,163.3 L1488.0,163.2 L1491.0,163.2 L1494.0,163.1 L1497.0,163.1 L1500.0,163.0 L1503.0,162.9 L1506.0,162.8 L1509.0,162.8 L1512.0,162.7 L1515.0,162.6 L1518.0,162.5 L1521.0,162.4 L1524.0,162.3 L1527.0,162.1 L1530.0,162.0 L1533.0,161.9 L1536.0,161.8 L1539.0,161.6 L1542.0,161.5 L1545.0,161.3 L1548.0,161.2 L1551.0,161.0 L1554.0,160.9 L1557.0,160.7 L1560.0,160.5 L1563.0,160.4 L1566.0,160.2 L1569.0,160.0 L1572.0,159.8 L1575.0,159.6 L1578.0,159.5 L1581.0,159.3 L1584.0,159.1 L1587.0,158.9 L1590.0,158.7 L1593.0,158.5 L1596.0,158.3 L1599.0,158.1 L1602.0,157.9 L1605.0,157.7 L1608.0,157.4 L1611.0,157.2 L1614.0,157.0 L1617.0,156.8 L1620.0,156.6 L1623.0,156.4 L1626.0,156.1 L1629.0,155.9 L1632.0,155.7 L1635.0,155.5 L1638.0,155.3 L1641.0,155.0 L1644.0,154.8 L1647.0,154.6 L1650.0,154.4 L1653.0,154.1 L1656.0,153.9 L1659.0,153.7 L1662.0,153.5 L1665.0,153.3 L1668.0,153.0 L1671.0,152.8 L1674.0,152.6 L1677.0,152.4 L1680.0,152.2 L1683.0,151.9 L1686.0,151.7 L1689.0,151.5 L1692.0,151.3 L1695.0,151.1 L1698.0,150.9 L1701.0,150.7 L1704.0,150.5 L1707.0,150.3 L1710.0,150.1 L1713.0,149.9 L1716.0,149.7 L1719.0,149.5 L1722.0,149.3 L1725.0,149.2 L1728.0,149.0 L1731.0,148.8 L1734.0,148.6 L1737.0,148.5 L1740.0,148.3 L1743.0,148.1 L1746.0,148.0 L1749.0,147.8 L1752.0,147.7 L1755.0,147.6 L1758.0,147.4 L1761.0,147.3 L1764.0,147.2 L1767.0,147.0 L1770.0,146.9 L1773.0,146.8 L1776.0,146.7 L1779.0,146.6 L1782.0,146.5 L1785.0,146.4 L1788.0,146.3 L1791.0,146.2 L1794.0,146.2 L1797.0,146.1 L1800.0,146.1 L1803.0,146.0 L1806.0,146.0 L1809.0,145.9 L1812.0,145.9 L1815.0,145.9 L1818.0,145.8 L1821.0,145.8 L1824.0,145.8 L1827.0,145.8 L1830.0,145.8 L1833.0,145.9 L1836.0,145.9 L1839.0,145.9 L1842.0,146.0 L1845.0,146.0 L1848.0,146.1 L1851.0,146.2 L1854.0,146.2 L1857.0,146.3 L1860.0,146.4 L1863.0,146.5 L1866.0,146.7 L1869.0,146.8 L1872.0,146.9 L1875.0,147.1 L1878.0,147.2 L1881.0,147.4 L1884.0,147.6 L1887.0,147.7 L1890.0,147.9 L1893.0,148.1 L1896.0,148.4 L1899.0,148.6 L1902.0,148.8 L1905.0,149.1 L1908.0,149.3 L1911.0,149.6 L1914.0,149.9 L1917.0,150.2 L1920.0,150.5 L1923.0,150.8 L1926.0,151.1 L1929.0,151.5 L1932.0,151.8 L1935.0,152.2 L1938.0,152.6 L1941.0,152.9 L1944.0,153.3 L1947.0,153.8 L1950.0,154.2 L1953.0,154.6 L1956.0,155.1 L1959.0,155.6 L1962.0,156.0 L1965.0,156.5 L1968.0,157.0 L1971.0,157.6 L1974.0,158.1 L1977.0,158.6 L1980.0,159.2 L1983.0,159.8 L1986.0,160.4 L1989.0,161.0 L1992.0,161.6 L1995.0,162.3 L1998.0,162.9 L2001.0,163.6 L2004.0,164.3 L2007.0,165.0 L2010.0,165.7 L2013.0,166.4 L2016.0,167.1 L2019.0,167.9 L2022.0,168.7 L2025.0,169.5 L2028.0,170.3 L2031.0,171.1 L2034.0,171.9 L2037.0,172.8 L2040.0,173.7 L2043.0,174.6 L2046.0,175.5 L2049.0,176.4 L2052.0,177.3 L2055.0,178.3 L2058.0,179.3 L2061.0,180.3 L2064.0,181.3 L2067.0,182.3 L2070.0,183.3 L2073.0,184.4 L2076.0,185.5 L2079.0,186.6 L2082.0,187.7 L2085.0,188.8 L2088.0,190.0 L2091.0,191.1 L2094.0,192.3 L2097.0,193.5 L2100.0,194.7 L2103.0,195.9 L2106.0,197.2 L2109.0,198.5 L2112.0,199.7 L2115.0,201.0 L2118.0,202.4 L2121.0,203.7 L2124.0,205.1 L2127.0,206.4 L2130.0,207.8 L2133.0,209.2 L2136.0,210.7 L2139.0,212.1 L2142.0,213.6 L2145.0,215.0 L2148.0,216.5 L2151.0,218.1 L2154.0,219.6 L2157.0,221.2 L2160.0,222.7 L2163.0,224.3 L2166.0,225.9 L2169.0,227.6 L2172.0,229.2 L2175.0,230.9 L2178.0,232.6 L2181.0,234.3 L2184.0,236.0 L2187.0,237.7 L2190.0,239.5 L2193.0,241.3 L2196.0,243.1 L2199.0,244.9 L2202.0,246.7 L2205.0,248.6 L2208.0,250.5 L2211.0,252.4 L2214.0,254.3 L2217.0,256.2 L2220.0,258.2 L2223.0,260.1 L2226.0,262.1 L2229.0,264.1 L2232.0,266.1 L2235.0,268.2 L2238.0,270.2 L2241.0,272.2 L2244.0,274.3 L2247.0,276.3 L2250.0,278.4 L2253.0,280.5 L2256.0,282.5 L2259.0,284.6 L2262.0,286.6 L2265.0,288.6 L2268.0,290.7 L2271.0,292.7 L2274.0,294.7 L2277.0,296.7 L2280.0,298.7 L2283.0,300.6 L2286.0,302.6 L2289.0,304.5 L2292.0,306.4 L2295.0,308.3 L2298.0,310.1 L2301.0,311.9 L2304.0,313.7 L2307.0,315.5 L2310.0,317.2 L2313.0,318.9 L2316.0,320.6 L2319.0,322.2 L2320.0,322.7" stroke="#F14040" stroke-width="4.5" fill="none" stroke-linejoin="round"/>
<path d="M1365.0,163.0 L1368.0,163.6 L1371.0,164.2 L1374.0,164.8 L1377.0,165.4 L1380.0,165.9 L1383.0,166.5 L1386.0,167.0 L1389.0,167.5 L1392.0,168.0 L1395.0,168.5 L1398.0,169.0 L1401.0,169.5 L1404.0,169.9 L1407.0,170.4 L1410.0,170.8 L1413.0,171.2 L1416.0,171.6 L1419.0,172.0 L1422.0,172.4 L1425.0,172.7 L1428.0,173.1 L1431.0,173.5 L1434.0,173.8 L1437.0,174.1 L1440.0,174.4 L1443.0,174.7 L1446.0,175.0 L1449.0,175.3 L1452.0,175.6 L1455.0,175.8 L1458.0,176.1 L1461.0,176.3 L1464.0,176.6 L1467.0,176.8 L1470.0,177.0 L1473.0,177.2 L1476.0,177.4 L1479.0,177.6 L1482.0,177.7 L1485.0,177.9 L1488.0,178.1 L1491.0,178.2 L1494.0,178.3 L1497.0,178.5 L1500.0,178.6 L1503.0,178.7 L1506.0,178.8 L1509.0,178.9 L1512.0,179.0 L1515.0,179.0 L1518.0,179.1 L1521.0,179.2 L1524.0,179.2 L1527.0,179.3 L1530.0,179.3 L1533.0,179.3 L1536.0,179.3 L1539.0,179.4 L1542.0,179.4 L1545.0,179.4 L1548.0,179.3 L1551.0,179.3 L1554.0,179.3 L1557.0,179.3 L1560.0,179.2 L1563.0,179.2 L1566.0,179.2 L1569.0,179.1 L1572.0,179.0 L1575.0,179.0 L1578.0,178.9 L1581.0,178.8 L1584.0,178.7 L1587.0,178.6 L1590.0,178.5 L1593.0,178.4 L1596.0,178.3 L1599.0,178.2 L1602.0,178.1 L1605.0,178.0 L1608.0,177.8 L1611.0,177.7 L1614.0,177.6 L1617.0,177.4 L1620.0,177.3 L1623.0,177.1 L1626.0,177.0 L1629.0,176.8 L1632.0,176.7 L1635.0,176.5 L1638.0,176.3 L1641.0,176.1 L1644.0,176.0 L1647.0,175.8 L1650.0,175.6 L1653.0,175.4 L1656.0,175.2 L1659.0,175.0 L1662.0,174.8 L1665.0,174.6 L1668.0,174.4 L1671.0,174.2 L1674.0,174.0 L1677.0,173.8 L1680.0,173.6 L1683.0,173.3 L1686.0,173.1 L1689.0,172.9 L1692.0,172.7 L1695.0,172.4 L1698.0,172.2 L1701.0,172.0 L1704.0,171.8 L1707.0,171.5 L1710.0,171.3 L1713.0,171.1 L1716.0,170.8 L1719.0,170.6 L1722.0,170.3 L1725.0,170.1 L1728.0,169.9 L1731.0,169.6 L1734.0,169.4 L1737.0,169.2 L1740.0,168.9 L1743.0,168.7 L1746.0,168.4 L1749.0,168.2 L1752.0,168.0 L1755.0,167.7 L1758.0,167.5 L1761.0,167.2 L1764.0,167.0 L1767.0,166.8 L1770.0,166.5 L1773.0,166.3 L1776.0,166.0 L1779.0,165.8 L1782.0,165.6 L1785.0,165.4 L1788.0,165.1 L1791.0,164.9 L1794.0,164.7 L1797.0,164.4 L1800.0,164.2 L1803.0,164.0 L1806.0,163.8 L1809.0,163.6 L1812.0,163.4 L1815.0,163.1 L1818.0,162.9 L1821.0,162.7 L1824.0,162.5 L1827.0,162.3 L1830.0,162.1 L1833.0,161.9 L1836.0,161.7 L1839.0,161.5 L1842.0,161.4 L1845.0,161.2 L1848.0,161.0 L1851.0,160.8 L1854.0,160.7 L1857.0,160.5 L1860.0,160.3 L1863.0,160.2 L1866.0,160.0 L1869.0,159.9 L1872.0,159.7 L1875.0,159.6 L1878.0,159.5 L1881.0,159.3 L1884.0,159.2 L1887.0,159.1 L1890.0,159.0 L1893.0,158.8 L1896.0,158.7 L1899.0,158.6 L1902.0,158.5 L1905.0,158.5 L1908.0,158.4 L1911.0,158.3 L1914.0,158.2 L1917.0,158.2 L1920.0,158.1 L1923.0,158.1 L1926.0,158.0 L1929.0,158.0 L1932.0,157.9 L1935.0,157.9 L1938.0,157.9 L1941.0,157.9 L1944.0,157.9 L1947.0,157.9 L1950.0,157.9 L1953.0,157.9 L1956.0,157.9 L1959.0,158.0 L1962.0,158.0 L1965.0,158.0 L1968.0,158.1 L1971.0,158.2 L1974.0,158.2 L1977.0,158.3 L1980.0,158.4 L1983.0,158.5 L1986.0,158.6 L1989.0,158.7 L1992.0,158.8 L1995.0,159.0 L1998.0,159.1 L2001.0,159.3 L2004.0,159.4 L2007.0,159.6 L2010.0,159.8 L2013.0,159.9 L2016.0,160.1 L2019.0,160.3 L2022.0,160.6 L2025.0,160.8 L2028.0,161.0 L2031.0,161.3 L2034.0,161.5 L2037.0,161.8 L2040.0,162.1 L2043.0,162.4 L2046.0,162.7 L2049.0,163.0 L2052.0,163.3 L2055.0,163.6 L2058.0,164.0 L2061.0,164.3 L2064.0,164.7 L2067.0,165.1 L2070.0,165.5 L2073.0,165.9 L2076.0,166.3 L2079.0,166.7 L2082.0,167.2 L2085.0,167.6 L2088.0,168.1 L2091.0,168.6 L2094.0,169.1 L2097.0,169.6 L2100.0,170.1 L2103.0,170.6 L2106.0,171.2 L2109.0,171.8 L2112.0,172.3 L2115.0,172.9 L2118.0,173.5 L2121.0,174.2 L2124.0,174.8 L2127.0,175.4 L2130.0,176.1 L2133.0,176.8 L2136.0,177.5 L2139.0,178.2 L2142.0,178.9 L2145.0,179.7 L2148.0,180.5 L2151.0,181.2 L2154.0,182.0 L2157.0,182.8 L2160.0,183.7 L2163.0,184.5 L2166.0,185.4 L2169.0,186.3 L2172.0,187.2 L2175.0,188.1 L2178.0,189.0 L2181.0,190.0 L2184.0,190.9 L2187.0,191.9 L2190.0,192.9 L2193.0,193.9 L2196.0,195.0 L2199.0,196.1 L2202.0,197.1 L2205.0,198.2 L2208.0,199.3 L2211.0,200.5 L2214.0,201.6 L2217.0,202.8 L2220.0,204.0 L2223.0,205.2 L2226.0,206.5 L2229.0,207.7 L2232.0,209.0 L2235.0,210.3 L2238.0,211.6 L2241.0,213.0 L2244.0,214.3 L2247.0,215.7 L2250.0,217.1 L2253.0,218.5 L2256.0,220.0 L2259.0,221.5 L2262.0,222.9 L2265.0,224.5 L2268.0,226.0 L2271.0,227.5 L2274.0,229.1 L2277.0,230.7 L2280.0,232.4 L2283.0,234.0 L2286.0,235.7 L2289.0,237.4 L2292.0,239.1 L2295.0,240.8 L2298.0,242.6 L2301.0,244.4 L2304.0,246.2 L2307.0,248.0 L2310.0,249.9 L2313.0,251.8 L2316.0,253.7 L2319.0,255.6 L2320.0,256.3" stroke="#1A6FDF" stroke-width="4.5" fill="none" stroke-linejoin="round"/>
<path d="M1365.0,220.4 L1368.0,220.9 L1371.0,221.5 L1374.0,222.1 L1377.0,222.6 L1380.0,223.2 L1383.0,223.7 L1386.0,224.2 L1389.0,224.7 L1392.0,225.2 L1395.0,225.7 L1398.0,226.2 L1401.0,226.6 L1404.0,227.1 L1407.0,227.5 L1410.0,227.9 L1413.0,228.3 L1416.0,228.7 L1419.0,229.1 L1422.0,229.5 L1425.0,229.8 L1428.0,230.2 L1431.0,230.5 L1434.0,230.9 L1437.0,231.2 L1440.0,231.5 L1443.0,231.8 L1446.0,232.1 L1449.0,232.4 L1452.0,232.7 L1455.0,232.9 L1458.0,233.2 L1461.0,233.4 L1464.0,233.7 L1467.0,233.9 L1470.0,234.1 L1473.0,234.3 L1476.0,234.5 L1479.0,234.7 L1482.0,234.9 L1485.0,235.1 L1488.0,235.3 L1491.0,235.4 L1494.0,235.6 L1497.0,235.7 L1500.0,235.9 L1503.0,236.0 L1506.0,236.1 L1509.0,236.2 L1512.0,236.3 L1515.0,236.4 L1518.0,236.5 L1521.0,236.6 L1524.0,236.7 L1527.0,236.8 L1530.0,236.8 L1533.0,236.9 L1536.0,237.0 L1539.0,237.0 L1542.0,237.1 L1545.0,237.1 L1548.0,237.1 L1551.0,237.1 L1554.0,237.2 L1557.0,237.2 L1560.0,237.2 L1563.0,237.2 L1566.0,237.2 L1569.0,237.2 L1572.0,237.2 L1575.0,237.2 L1578.0,237.1 L1581.0,237.1 L1584.0,237.1 L1587.0,237.0 L1590.0,237.0 L1593.0,237.0 L1596.0,236.9 L1599.0,236.9 L1602.0,236.8 L1605.0,236.8 L1608.0,236.7 L1611.0,236.6 L1614.0,236.6 L1617.0,236.5 L1620.0,236.4 L1623.0,236.3 L1626.0,236.3 L1629.0,236.2 L1632.0,236.1 L1635.0,236.0 L1638.0,235.9 L1641.0,235.8 L1644.0,235.7 L1647.0,235.7 L1650.0,235.6 L1653.0,235.5 L1656.0,235.4 L1659.0,235.3 L1662.0,235.2 L1665.0,235.1 L1668.0,235.0 L1671.0,234.9 L1674.0,234.7 L1677.0,234.6 L1680.0,234.5 L1683.0,234.4 L1686.0,234.3 L1689.0,234.2 L1692.0,234.1 L1695.0,234.0 L1698.0,233.9 L1701.0,233.8 L1704.0,233.7 L1707.0,233.6 L1710.0,233.5 L1713.0,233.4 L1716.0,233.3 L1719.0,233.2 L1722.0,233.1 L1725.0,233.0 L1728.0,232.9 L1731.0,232.8 L1734.0,232.7 L1737.0,232.6 L1740.0,232.5 L1743.0,232.4 L1746.0,232.3 L1749.0,232.2 L1752.0,232.1 L1755.0,232.1 L1758.0,232.0 L1761.0,231.9 L1764.0,231.8 L1767.0,231.8 L1770.0,231.7 L1773.0,231.6 L1776.0,231.6 L1779.0,231.5 L1782.0,231.5 L1785.0,231.4 L1788.0,231.4 L1791.0,231.3 L1794.0,231.3 L1797.0,231.2 L1800.0,231.2 L1803.0,231.2 L1806.0,231.2 L1809.0,231.2 L1812.0,231.1 L1815.0,231.1 L1818.0,231.1 L1821.0,231.1 L1824.0,231.1 L1827.0,231.2 L1830.0,231.2 L1833.0,231.2 L1836.0,231.2 L1839.0,231.3 L1842.0,231.3 L1845.0,231.4 L1848.0,231.4 L1851.0,231.5 L1854.0,231.5 L1857.0,231.6 L1860.0,231.7 L1863.0,231.8 L1866.0,231.9 L1869.0,232.0 L1872.0,232.1 L1875.0,232.2 L1878.0,232.3 L1881.0,232.4 L1884.0,232.6 L1887.0,232.7 L1890.0,232.9 L1893.0,233.0 L1896.0,233.2 L1899.0,233.4 L1902.0,233.6 L1905.0,233.8 L1908.0,234.0 L1911.0,234.2 L1914.0,234.4 L1917.0,234.6 L1920.0,234.9 L1923.0,235.1 L1926.0,235.4 L1929.0,235.6 L1932.0,235.9 L1935.0,236.2 L1938.0,236.5 L1941.0,236.8 L1944.0,237.1 L1947.0,237.4 L1950.0,237.7 L1953.0,238.1 L1956.0,238.4 L1959.0,238.8 L1962.0,239.2 L1965.0,239.6 L1968.0,240.0 L1971.0,240.4 L1974.0,240.8 L1977.0,241.2 L1980.0,241.7 L1983.0,242.1 L1986.0,242.6 L1989.0,243.1 L1992.0,243.6 L1995.0,244.1 L1998.0,244.6 L2001.0,245.1 L2004.0,245.6 L2007.0,246.2 L2010.0,246.8 L2013.0,247.3 L2016.0,247.9 L2019.0,248.5 L2022.0,249.1 L2025.0,249.8 L2028.0,250.4 L2031.0,251.1 L2034.0,251.7 L2037.0,252.4 L2040.0,253.1 L2043.0,253.8 L2046.0,254.5 L2049.0,255.3 L2052.0,256.0 L2055.0,256.8 L2058.0,257.6 L2061.0,258.4 L2064.0,259.2 L2067.0,260.0 L2070.0,260.8 L2073.0,261.7 L2076.0,262.5 L2079.0,263.4 L2082.0,264.3 L2085.0,265.2 L2088.0,266.1 L2091.0,267.1 L2094.0,268.0 L2097.0,269.0 L2100.0,270.0 L2103.0,271.0 L2106.0,272.0 L2109.0,273.1 L2112.0,274.1 L2115.0,275.2 L2118.0,276.2 L2121.0,277.3 L2124.0,278.5 L2127.0,279.6 L2130.0,280.7 L2133.0,281.9 L2136.0,283.1 L2139.0,284.3 L2142.0,285.5 L2145.0,286.7 L2148.0,287.9 L2151.0,289.2 L2154.0,290.5 L2157.0,291.8 L2160.0,293.1 L2163.0,294.4 L2166.0,295.8 L2169.0,297.1 L2172.0,298.5 L2175.0,299.9 L2178.0,301.3 L2181.0,302.8 L2184.0,304.2 L2187.0,305.7 L2190.0,307.2 L2193.0,308.7 L2196.0,310.2 L2199.0,311.7 L2202.0,313.3 L2205.0,314.9 L2208.0,316.5 L2211.0,318.1 L2214.0,319.7 L2217.0,321.4 L2220.0,323.1 L2223.0,324.8 L2226.0,326.5 L2229.0,328.2 L2232.0,329.9 L2235.0,331.7 L2238.0,333.5 L2241.0,335.3 L2244.0,337.1 L2247.0,339.0 L2250.0,340.8 L2253.0,342.7 L2256.0,344.6 L2259.0,346.6 L2262.0,348.5 L2265.0,350.5 L2268.0,352.5 L2271.0,354.5 L2274.0,356.5 L2277.0,358.5 L2280.0,360.6 L2283.0,362.7 L2286.0,364.8 L2289.0,366.9 L2292.0,369.1 L2295.0,371.3 L2298.0,373.5 L2301.0,375.7 L2304.0,377.9 L2307.0,380.2 L2310.0,382.4 L2313.0,384.7 L2316.0,387.1 L2319.0,389.4 L2320.0,390.2" stroke="#37AD6B" stroke-width="4.5" fill="none" stroke-linejoin="round"/>
<path d="M1365.0,258.6 L1368.0,259.4 L1371.0,260.1 L1374.0,260.8 L1377.0,261.5 L1380.0,262.2 L1383.0,262.9 L1386.0,263.5 L1389.0,264.2 L1392.0,264.8 L1395.0,265.4 L1398.0,266.0 L1401.0,266.6 L1404.0,267.2 L1407.0,267.7 L1410.0,268.3 L1413.0,268.8 L1416.0,269.3 L1419.0,269.8 L1422.0,270.3 L1425.0,270.8 L1428.0,271.3 L1431.0,271.7 L1434.0,272.2 L1437.0,272.6 L1440.0,273.0 L1443.0,273.4 L1446.0,273.8 L1449.0,274.2 L1452.0,274.6 L1455.0,275.0 L1458.0,275.3 L1461.0,275.7 L1464.0,276.0 L1467.0,276.3 L1470.0,276.6 L1473.0,276.9 L1476.0,277.2 L1479.0,277.5 L1482.0,277.7 L1485.0,278.0 L1488.0,278.2 L1491.0,278.5 L1494.0,278.7 L1497.0,278.9 L1500.0,279.1 L1503.0,279.3 L1506.0,279.5 L1509.0,279.7 L1512.0,279.9 L1515.0,280.0 L1518.0,280.2 L1521.0,280.3 L1524.0,280.5 L1527.0,280.6 L1530.0,280.7 L1533.0,280.8 L1536.0,280.9 L1539.0,281.0 L1542.0,281.1 L1545.0,281.2 L1548.0,281.2 L1551.0,281.3 L1554.0,281.3 L1557.0,281.4 L1560.0,281.4 L1563.0,281.5 L1566.0,281.5 L1569.0,281.5 L1572.0,281.5 L1575.0,281.5 L1578.0,281.5 L1581.0,281.5 L1584.0,281.5 L1587.0,281.5 L1590.0,281.5 L1593.0,281.4 L1596.0,281.4 L1599.0,281.4 L1602.0,281.3 L1605.0,281.3 L1608.0,281.2 L1611.0,281.1 L1614.0,281.1 L1617.0,281.0 L1620.0,280.9 L1623.0,280.8 L1626.0,280.7 L1629.0,280.6 L1632.0,280.5 L1635.0,280.4 L1638.0,280.3 L1641.0,280.2 L1644.0,280.1 L1647.0,280.0 L1650.0,279.9 L1653.0,279.7 L1656.0,279.6 L1659.0,279.5 L1662.0,279.3 L1665.0,279.2 L1668.0,279.1 L1671.0,278.9 L1674.0,278.8 L1677.0,278.6 L1680.0,278.5 L1683.0,278.3 L1686.0,278.2 L1689.0,278.0 L1692.0,277.8 L1695.0,277.7 L1698.0,277.5 L1701.0,277.3 L1704.0,277.2 L1707.0,277.0 L1710.0,276.8 L1713.0,276.7 L1716.0,276.5 L1719.0,276.3 L1722.0,276.1 L1725.0,276.0 L1728.0,275.8 L1731.0,275.6 L1734.0,275.4 L1737.0,275.3 L1740.0,275.1 L1743.0,274.9 L1746.0,274.7 L1749.0,274.6 L1752.0,274.4 L1755.0,274.2 L1758.0,274.0 L1761.0,273.8 L1764.0,273.7 L1767.0,273.5 L1770.0,273.3 L1773.0,273.2 L1776.0,273.0 L1779.0,272.8 L1782.0,272.7 L1785.0,272.5 L1788.0,272.3 L1791.0,272.2 L1794.0,272.0 L1797.0,271.8 L1800.0,271.7 L1803.0,271.5 L1806.0,271.4 L1809.0,271.2 L1812.0,271.1 L1815.0,270.9 L1818.0,270.8 L1821.0,270.7 L1824.0,270.5 L1827.0,270.4 L1830.0,270.3 L1833.0,270.2 L1836.0,270.0 L1839.0,269.9 L1842.0,269.8 L1845.0,269.7 L1848.0,269.6 L1851.0,269.5 L1854.0,269.4 L1857.0,269.3 L1860.0,269.2 L1863.0,269.1 L1866.0,269.1 L1869.0,269.0 L1872.0,268.9 L1875.0,268.9 L1878.0,268.8 L1881.0,268.7 L1884.0,268.7 L1887.0,268.7 L1890.0,268.6 L1893.0,268.6 L1896.0,268.6 L1899.0,268.6 L1902.0,268.5 L1905.0,268.5 L1908.0,268.5 L1911.0,268.6 L1914.0,268.6 L1917.0,268.6 L1920.0,268.6 L1923.0,268.7 L1926.0,268.7 L1929.0,268.8 L1932.0,268.8 L1935.0,268.9 L1938.0,269.0 L1941.0,269.0 L1944.0,269.1 L1947.0,269.2 L1950.0,269.3 L1953.0,269.4 L1956.0,269.6 L1959.0,269.7 L1962.0,269.8 L1965.0,270.0 L1968.0,270.1 L1971.0,270.3 L1974.0,270.5 L1977.0,270.7 L1980.0,270.8 L1983.0,271.1 L1986.0,271.3 L1989.0,271.5 L1992.0,271.7 L1995.0,272.0 L1998.0,272.2 L2001.0,272.5 L2004.0,272.7 L2007.0,273.0 L2010.0,273.3 L2013.0,273.6 L2016.0,273.9 L2019.0,274.3 L2022.0,274.6 L2025.0,274.9 L2028.0,275.3 L2031.0,275.7 L2034.0,276.0 L2037.0,276.4 L2040.0,276.8 L2043.0,277.2 L2046.0,277.7 L2049.0,278.1 L2052.0,278.6 L2055.0,279.0 L2058.0,279.5 L2061.0,280.0 L2064.0,280.5 L2067.0,281.0 L2070.0,281.5 L2073.0,282.1 L2076.0,282.6 L2079.0,283.2 L2082.0,283.8 L2085.0,284.4 L2088.0,285.0 L2091.0,285.6 L2094.0,286.2 L2097.0,286.9 L2100.0,287.5 L2103.0,288.2 L2106.0,288.9 L2109.0,289.6 L2112.0,290.3 L2115.0,291.0 L2118.0,291.8 L2121.0,292.6 L2124.0,293.3 L2127.0,294.1 L2130.0,294.9 L2133.0,295.8 L2136.0,296.6 L2139.0,297.4 L2142.0,298.3 L2145.0,299.2 L2148.0,300.1 L2151.0,301.0 L2154.0,302.0 L2157.0,302.9 L2160.0,303.9 L2163.0,304.9 L2166.0,305.9 L2169.0,306.9 L2172.0,307.9 L2175.0,308.9 L2178.0,310.0 L2181.0,311.1 L2184.0,312.2 L2187.0,313.3 L2190.0,314.5 L2193.0,315.6 L2196.0,316.8 L2199.0,318.0 L2202.0,319.2 L2205.0,320.4 L2208.0,321.6 L2211.0,322.9 L2214.0,324.2 L2217.0,325.5 L2220.0,326.8 L2223.0,328.1 L2226.0,329.5 L2229.0,330.9 L2232.0,332.3 L2235.0,333.7 L2238.0,335.1 L2241.0,336.6 L2244.0,338.0 L2247.0,339.5 L2250.0,341.0 L2253.0,342.6 L2256.0,344.1 L2259.0,345.7 L2262.0,347.3 L2265.0,348.9 L2268.0,350.5 L2271.0,352.2 L2274.0,353.9 L2277.0,355.6 L2280.0,357.3 L2283.0,359.0 L2286.0,360.8 L2289.0,362.6 L2292.0,364.4 L2295.0,366.2 L2298.0,368.0 L2301.0,369.9 L2304.0,371.8 L2307.0,373.7 L2310.0,375.6 L2313.0,377.6 L2316.0,379.6 L2319.0,381.6 L2320.0,382.2" stroke="#B177DE" stroke-width="4.5" fill="none" stroke-linejoin="round"/>
<text transform="translate(1208.2,75.9) scale(1.054,1)" font-size="100.0">(b)</text>
<text x="1287.6" y="161.3" font-size="47.0">1.0</text>
<text x="1287.4" y="301.8" font-size="47.0">0.8</text>
<text x="1287.2" y="442.4" font-size="47.0">0.6</text>
<text x="1286.7" y="582.9" font-size="47.0">0.4</text>
<text x="1287.9" y="723.5" font-size="47.0">0.2</text>
<text x="1287.6" y="864.0" font-size="47.0">0.0</text>
<text x="1447.2" y="903.5" font-size="45.5">7</text>
<text x="1639.5" y="903.5" font-size="45.5">8</text>
<text x="1831.2" y="903.5" font-size="45.5">9</text>
<text x="2010.8" y="903.5" font-size="45.5">10</text>
<text x="2203.5" y="903.5" font-size="45.5">11</text>
<text transform="translate(1258.8,672.6) rotate(-90) scale(1.028,1)" font-size="84.2">Absorption</text>
<text transform="translate(1529.9,995.8) scale(0.978,1)" font-size="90.0">Wavelength(μm)</text>
<path d="M1851.8,389.7H1962.8" stroke="#515151" stroke-width="5"/>
<path d="M1851.8,457.7H1962.8" stroke="#F14040" stroke-width="5"/>
<path d="M1851.8,525.5H1962.8" stroke="#1A6FDF" stroke-width="5"/>
<path d="M1851.8,593.5H1962.8" stroke="#37AD6B" stroke-width="5"/>
<path d="M1851.8,661.7H1962.8" stroke="#B177DE" stroke-width="5"/>
<text transform="translate(1974.3,407.5) scale(0.970,1)" font-size="60.0">8 nm</text>
<text transform="translate(1971.6,474.5) scale(0.970,1)" font-size="60.0">18 nm</text>
<text transform="translate(1974.0,542.3) scale(0.970,1)" font-size="60.0">28 nm</text>
<text transform="translate(1974.0,609.7) scale(0.970,1)" font-size="60.0">38 nm</text>
<text transform="translate(1975.4,677.1) scale(0.970,1)" font-size="60.0">48 nm</text>
<path d="M208,1022H1172.5" stroke="#808080" stroke-width="3.5" fill="none"/>
<path d="M1172.5,1020.25V1800.75" stroke="#8a8a8a" stroke-width="3.5" fill="none"/>
<path d="M208,1799H1172.5" stroke="#8a8a8a" stroke-width="3.5" fill="none"/>
<path d="M208,1020.25V1800.75" stroke="#555555" stroke-width="3.5" fill="none"/>
<path d="M210.0,1171.5 L213.0,1172.1 L216.0,1172.7 L219.0,1173.2 L222.0,1173.8 L225.0,1174.3 L228.0,1174.8 L231.0,1175.3 L234.0,1175.8 L237.0,1176.3 L240.0,1176.7 L243.0,1177.2 L246.0,1177.6 L249.0,1178.0 L252.0,1178.4 L255.0,1178.7 L258.0,1179.1 L261.0,1179.4 L264.0,1179.7 L267.0,1180.0 L270.0,1180.3 L273.0,1180.6 L276.0,1180.9 L279.0,1181.1 L282.0,1181.3 L285.0,1181.6 L288.0,1181.8 L291.0,1181.9 L294.0,1182.1 L297.0,1182.3 L300.0,1182.4 L303.0,1182.6 L306.0,1182.7 L309.0,1182.8 L312.0,1182.9 L315.0,1183.0 L318.0,1183.0 L321.0,1183.1 L324.0,1183.1 L327.0,1183.2 L330.0,1183.2 L333.0,1183.2 L336.0,1183.2 L339.0,1183.2 L342.0,1183.2 L345.0,1183.1 L348.0,1183.1 L351.0,1183.0 L354.0,1183.0 L357.0,1182.9 L360.0,1182.8 L363.0,1182.7 L366.0,1182.6 L369.0,1182.5 L372.0,1182.3 L375.0,1182.2 L378.0,1182.1 L381.0,1181.9 L384.0,1181.7 L387.0,1181.6 L390.0,1181.4 L393.0,1181.2 L396.0,1181.0 L399.0,1180.8 L402.0,1180.6 L405.0,1180.4 L408.0,1180.1 L411.0,1179.9 L414.0,1179.6 L417.0,1179.4 L420.0,1179.1 L423.0,1178.9 L426.0,1178.6 L429.0,1178.3 L432.0,1178.0 L435.0,1177.7 L438.0,1177.5 L441.0,1177.1 L444.0,1176.8 L447.0,1176.5 L450.0,1176.2 L453.0,1175.9 L456.0,1175.6 L459.0,1175.2 L462.0,1174.9 L465.0,1174.5 L468.0,1174.2 L471.0,1173.9 L474.0,1173.5 L477.0,1173.1 L480.0,1172.8 L483.0,1172.4 L486.0,1172.0 L489.0,1171.7 L492.0,1171.3 L495.0,1170.9 L498.0,1170.5 L501.0,1170.2 L504.0,1169.8 L507.0,1169.4 L510.0,1169.0 L513.0,1168.6 L516.0,1168.2 L519.0,1167.8 L522.0,1167.4 L525.0,1167.0 L528.0,1166.6 L531.0,1166.2 L534.0,1165.8 L537.0,1165.4 L540.0,1165.0 L543.0,1164.6 L546.0,1164.3 L549.0,1163.9 L552.0,1163.5 L555.0,1163.1 L558.0,1162.7 L561.0,1162.3 L564.0,1161.9 L567.0,1161.5 L570.0,1161.1 L573.0,1160.7 L576.0,1160.3 L579.0,1159.9 L582.0,1159.5 L585.0,1159.1 L588.0,1158.8 L591.0,1158.4 L594.0,1158.0 L597.0,1157.6 L600.0,1157.3 L603.0,1156.9 L606.0,1156.5 L609.0,1156.2 L612.0,1155.8 L615.0,1155.5 L618.0,1155.1 L621.0,1154.8 L624.0,1154.4 L627.0,1154.1 L630.0,1153.8 L633.0,1153.4 L636.0,1153.1 L639.0,1152.8 L642.0,1152.5 L645.0,1152.2 L648.0,1151.9 L651.0,1151.6 L654.0,1151.3 L657.0,1151.0 L660.0,1150.7 L663.0,1150.5 L666.0,1150.2 L669.0,1149.9 L672.0,1149.7 L675.0,1149.5 L678.0,1149.2 L681.0,1149.0 L684.0,1148.8 L687.0,1148.6 L690.0,1148.4 L693.0,1148.2 L696.0,1148.0 L699.0,1147.8 L702.0,1147.6 L705.0,1147.5 L708.0,1147.3 L711.0,1147.2 L714.0,1147.0 L717.0,1146.9 L720.0,1146.8 L723.0,1146.7 L726.0,1146.6 L729.0,1146.5 L732.0,1146.5 L735.0,1146.4 L738.0,1146.4 L741.0,1146.3 L744.0,1146.3 L747.0,1146.3 L750.0,1146.3 L753.0,1146.4 L756.0,1146.4 L759.0,1146.4 L762.0,1146.5 L765.0,1146.6 L768.0,1146.7 L771.0,1146.8 L774.0,1146.9 L777.0,1147.0 L780.0,1147.2 L783.0,1147.4 L786.0,1147.5 L789.0,1147.7 L792.0,1148.0 L795.0,1148.2 L798.0,1148.4 L801.0,1148.7 L804.0,1149.0 L807.0,1149.3 L810.0,1149.6 L813.0,1150.0 L816.0,1150.3 L819.0,1150.7 L822.0,1151.1 L825.0,1151.5 L828.0,1152.0 L831.0,1152.4 L834.0,1152.9 L837.0,1153.4 L840.0,1153.9 L843.0,1154.5 L846.0,1155.0 L849.0,1155.6 L852.0,1156.2 L855.0,1156.9 L858.0,1157.5 L861.0,1158.2 L864.0,1158.9 L867.0,1159.6 L870.0,1160.4 L873.0,1161.1 L876.0,1161.9 L879.0,1162.7 L882.0,1163.6 L885.0,1164.4 L888.0,1165.3 L891.0,1166.2 L894.0,1167.2 L897.0,1168.1 L900.0,1169.1 L903.0,1170.2 L906.0,1171.2 L909.0,1172.3 L912.0,1173.4 L915.0,1174.5 L918.0,1175.7 L921.0,1176.8 L924.0,1178.0 L927.0,1179.3 L930.0,1180.6 L933.0,1181.9 L936.0,1183.2 L939.0,1184.5 L942.0,1185.9 L945.0,1187.3 L948.0,1188.8 L951.0,1190.2 L954.0,1191.7 L957.0,1193.3 L960.0,1194.8 L963.0,1196.4 L966.0,1198.0 L969.0,1199.6 L972.0,1201.3 L975.0,1203.0 L978.0,1204.7 L981.0,1206.5 L984.0,1208.3 L987.0,1210.1 L990.0,1211.9 L993.0,1213.8 L996.0,1215.7 L999.0,1217.6 L1002.0,1219.5 L1005.0,1221.5 L1008.0,1223.5 L1011.0,1225.5 L1014.0,1227.6 L1017.0,1229.7 L1020.0,1231.8 L1023.0,1233.9 L1026.0,1236.1 L1029.0,1238.3 L1032.0,1240.5 L1035.0,1242.8 L1038.0,1245.1 L1041.0,1247.4 L1044.0,1249.7 L1047.0,1252.1 L1050.0,1254.5 L1053.0,1256.9 L1056.0,1259.3 L1059.0,1261.8 L1062.0,1264.3 L1065.0,1266.8 L1068.0,1269.4 L1071.0,1271.9 L1074.0,1274.6 L1077.0,1277.2 L1080.0,1279.8 L1083.0,1282.5 L1086.0,1285.2 L1089.0,1288.0 L1092.0,1290.8 L1095.0,1293.5 L1098.0,1296.4 L1101.0,1299.2 L1104.0,1302.1 L1107.0,1305.0 L1110.0,1307.9 L1113.0,1310.9 L1116.0,1313.8 L1119.0,1316.9 L1122.0,1319.9 L1125.0,1322.9 L1128.0,1326.0 L1131.0,1329.1 L1134.0,1332.3 L1137.0,1335.4 L1140.0,1338.6 L1143.0,1341.8 L1146.0,1345.1 L1149.0,1348.4 L1152.0,1351.7 L1155.0,1355.0 L1158.0,1358.3 L1161.0,1361.7 L1164.0,1365.1 L1167.0,1368.5 L1170.0,1372.0 L1171.0,1373.1" stroke="#515151" stroke-width="4.5" fill="none" stroke-linejoin="round"/>
<path d="M210.0,1179.4 L213.0,1180.1 L216.0,1180.6 L219.0,1181.2 L222.0,1181.8 L225.0,1182.3 L228.0,1182.8 L231.0,1183.3 L234.0,1183.8 L237.0,1184.3 L240.0,1184.8 L243.0,1185.2 L246.0,1185.6 L249.0,1186.1 L252.0,1186.5 L255.0,1186.8 L258.0,1187.2 L261.0,1187.6 L264.0,1187.9 L267.0,1188.2 L270.0,1188.5 L273.0,1188.8 L276.0,1189.1 L279.0,1189.4 L282.0,1189.6 L285.0,1189.9 L288.0,1190.1 L291.0,1190.3 L294.0,1190.5 L297.0,1190.7 L300.0,1190.9 L303.0,1191.0 L306.0,1191.2 L309.0,1191.3 L312.0,1191.4 L315.0,1191.6 L318.0,1191.7 L321.0,1191.8 L324.0,1191.8 L327.0,1191.9 L330.0,1192.0 L333.0,1192.0 L336.0,1192.0 L339.0,1192.1 L342.0,1192.1 L345.0,1192.1 L348.0,1192.1 L351.0,1192.1 L354.0,1192.0 L357.0,1192.0 L360.0,1192.0 L363.0,1191.9 L366.0,1191.8 L369.0,1191.8 L372.0,1191.7 L375.0,1191.6 L378.0,1191.5 L381.0,1191.4 L384.0,1191.3 L387.0,1191.2 L390.0,1191.0 L393.0,1190.9 L396.0,1190.7 L399.0,1190.6 L402.0,1190.4 L405.0,1190.3 L408.0,1190.1 L411.0,1189.9 L414.0,1189.7 L417.0,1189.5 L420.0,1189.3 L423.0,1189.1 L426.0,1188.9 L429.0,1188.7 L432.0,1188.5 L435.0,1188.2 L438.0,1188.0 L441.0,1187.8 L444.0,1187.5 L447.0,1187.3 L450.0,1187.0 L453.0,1186.7 L456.0,1186.5 L459.0,1186.2 L462.0,1185.9 L465.0,1185.7 L468.0,1185.4 L471.0,1185.1 L474.0,1184.8 L477.0,1184.5 L480.0,1184.2 L483.0,1183.9 L486.0,1183.6 L489.0,1183.3 L492.0,1183.0 L495.0,1182.7 L498.0,1182.4 L501.0,1182.1 L504.0,1181.8 L507.0,1181.5 L510.0,1181.2 L513.0,1180.9 L516.0,1180.5 L519.0,1180.2 L522.0,1179.9 L525.0,1179.6 L528.0,1179.3 L531.0,1178.9 L534.0,1178.6 L537.0,1178.3 L540.0,1178.0 L543.0,1177.7 L546.0,1177.3 L549.0,1177.0 L552.0,1176.7 L555.0,1176.4 L558.0,1176.1 L561.0,1175.8 L564.0,1175.4 L567.0,1175.1 L570.0,1174.8 L573.0,1174.5 L576.0,1174.2 L579.0,1173.9 L582.0,1173.6 L585.0,1173.3 L588.0,1173.0 L591.0,1172.7 L594.0,1172.4 L597.0,1172.1 L600.0,1171.8 L603.0,1171.6 L606.0,1171.3 L609.0,1171.0 L612.0,1170.7 L615.0,1170.5 L618.0,1170.2 L621.0,1169.9 L624.0,1169.7 L627.0,1169.4 L630.0,1169.2 L633.0,1169.0 L636.0,1168.7 L639.0,1168.5 L642.0,1168.3 L645.0,1168.1 L648.0,1167.9 L651.0,1167.7 L654.0,1167.5 L657.0,1167.3 L660.0,1167.1 L663.0,1166.9 L666.0,1166.7 L669.0,1166.6 L672.0,1166.4 L675.0,1166.3 L678.0,1166.1 L681.0,1166.0 L684.0,1165.8 L687.0,1165.7 L690.0,1165.6 L693.0,1165.5 L696.0,1165.4 L699.0,1165.3 L702.0,1165.3 L705.0,1165.2 L708.0,1165.1 L711.0,1165.1 L714.0,1165.1 L717.0,1165.0 L720.0,1165.0 L723.0,1165.0 L726.0,1165.0 L729.0,1165.0 L732.0,1165.1 L735.0,1165.1 L738.0,1165.2 L741.0,1165.2 L744.0,1165.3 L747.0,1165.4 L750.0,1165.5 L753.0,1165.7 L756.0,1165.8 L759.0,1166.0 L762.0,1166.1 L765.0,1166.3 L768.0,1166.5 L771.0,1166.8 L774.0,1167.0 L777.0,1167.2 L780.0,1167.5 L783.0,1167.8 L786.0,1168.1 L789.0,1168.4 L792.0,1168.8 L795.0,1169.1 L798.0,1169.5 L801.0,1169.9 L804.0,1170.3 L807.0,1170.8 L810.0,1171.2 L813.0,1171.7 L816.0,1172.2 L819.0,1172.7 L822.0,1173.3 L825.0,1173.9 L828.0,1174.4 L831.0,1175.1 L834.0,1175.7 L837.0,1176.3 L840.0,1177.0 L843.0,1177.7 L846.0,1178.5 L849.0,1179.2 L852.0,1180.0 L855.0,1180.8 L858.0,1181.6 L861.0,1182.5 L864.0,1183.3 L867.0,1184.2 L870.0,1185.2 L873.0,1186.1 L876.0,1187.1 L879.0,1188.1 L882.0,1189.2 L885.0,1190.2 L888.0,1191.3 L891.0,1192.4 L894.0,1193.6 L897.0,1194.8 L900.0,1196.0 L903.0,1197.2 L906.0,1198.5 L909.0,1199.8 L912.0,1201.1 L915.0,1202.5 L918.0,1203.9 L921.0,1205.3 L924.0,1206.8 L927.0,1208.3 L930.0,1209.8 L933.0,1211.3 L936.0,1212.9 L939.0,1214.5 L942.0,1216.2 L945.0,1217.9 L948.0,1219.6 L951.0,1221.3 L954.0,1223.1 L957.0,1224.9 L960.0,1226.8 L963.0,1228.7 L966.0,1230.6 L969.0,1232.5 L972.0,1234.5 L975.0,1236.5 L978.0,1238.5 L981.0,1240.6 L984.0,1242.6 L987.0,1244.8 L990.0,1246.9 L993.0,1249.1 L996.0,1251.3 L999.0,1253.6 L1002.0,1255.8 L1005.0,1258.1 L1008.0,1260.5 L1011.0,1262.8 L1014.0,1265.2 L1017.0,1267.6 L1020.0,1270.1 L1023.0,1272.5 L1026.0,1275.0 L1029.0,1277.6 L1032.0,1280.1 L1035.0,1282.7 L1038.0,1285.3 L1041.0,1288.0 L1044.0,1290.7 L1047.0,1293.4 L1050.0,1296.1 L1053.0,1298.8 L1056.0,1301.6 L1059.0,1304.4 L1062.0,1307.3 L1065.0,1310.1 L1068.0,1313.0 L1071.0,1315.9 L1074.0,1318.9 L1077.0,1321.8 L1080.0,1324.8 L1083.0,1327.9 L1086.0,1330.9 L1089.0,1334.0 L1092.0,1337.1 L1095.0,1340.2 L1098.0,1343.4 L1101.0,1346.5 L1104.0,1349.7 L1107.0,1353.0 L1110.0,1356.2 L1113.0,1359.5 L1116.0,1362.8 L1119.0,1366.1 L1122.0,1369.5 L1125.0,1372.8 L1128.0,1376.2 L1131.0,1379.7 L1134.0,1383.1 L1137.0,1386.6 L1140.0,1390.1 L1143.0,1393.6 L1146.0,1397.1 L1149.0,1400.7 L1152.0,1404.3 L1155.0,1407.9 L1158.0,1411.5 L1161.0,1415.2 L1164.0,1418.8 L1167.0,1422.5 L1170.0,1426.3 L1171.0,1427.5" stroke="#F14040" stroke-width="4.5" fill="none" stroke-linejoin="round"/>
<path d="M210.0,1157.5 L213.0,1158.4 L216.0,1159.3 L219.0,1160.1 L222.0,1161.0 L225.0,1161.8 L228.0,1162.6 L231.0,1163.4 L234.0,1164.1 L237.0,1164.9 L240.0,1165.6 L243.0,1166.3 L246.0,1167.0 L249.0,1167.7 L252.0,1168.4 L255.0,1169.0 L258.0,1169.7 L261.0,1170.3 L264.0,1170.9 L267.0,1171.5 L270.0,1172.0 L273.0,1172.6 L276.0,1173.1 L279.0,1173.6 L282.0,1174.1 L285.0,1174.6 L288.0,1175.1 L291.0,1175.5 L294.0,1176.0 L297.0,1176.4 L300.0,1176.8 L303.0,1177.2 L306.0,1177.6 L309.0,1178.0 L312.0,1178.3 L315.0,1178.7 L318.0,1179.0 L321.0,1179.3 L324.0,1179.6 L327.0,1179.9 L330.0,1180.1 L333.0,1180.4 L336.0,1180.6 L339.0,1180.9 L342.0,1181.1 L345.0,1181.3 L348.0,1181.5 L351.0,1181.7 L354.0,1181.8 L357.0,1182.0 L360.0,1182.1 L363.0,1182.3 L366.0,1182.4 L369.0,1182.5 L372.0,1182.6 L375.0,1182.7 L378.0,1182.7 L381.0,1182.8 L384.0,1182.8 L387.0,1182.9 L390.0,1182.9 L393.0,1182.9 L396.0,1182.9 L399.0,1182.9 L402.0,1182.9 L405.0,1182.9 L408.0,1182.9 L411.0,1182.8 L414.0,1182.8 L417.0,1182.7 L420.0,1182.6 L423.0,1182.5 L426.0,1182.4 L429.0,1182.3 L432.0,1182.2 L435.0,1182.1 L438.0,1182.0 L441.0,1181.9 L444.0,1181.7 L447.0,1181.6 L450.0,1181.4 L453.0,1181.2 L456.0,1181.1 L459.0,1180.9 L462.0,1180.7 L465.0,1180.5 L468.0,1180.3 L471.0,1180.1 L474.0,1179.8 L477.0,1179.6 L480.0,1179.4 L483.0,1179.2 L486.0,1178.9 L489.0,1178.7 L492.0,1178.4 L495.0,1178.1 L498.0,1177.9 L501.0,1177.6 L504.0,1177.3 L507.0,1177.0 L510.0,1176.7 L513.0,1176.4 L516.0,1176.1 L519.0,1175.8 L522.0,1175.5 L525.0,1175.2 L528.0,1174.9 L531.0,1174.6 L534.0,1174.3 L537.0,1173.9 L540.0,1173.6 L543.0,1173.3 L546.0,1172.9 L549.0,1172.6 L552.0,1172.3 L555.0,1171.9 L558.0,1171.6 L561.0,1171.2 L564.0,1170.9 L567.0,1170.5 L570.0,1170.2 L573.0,1169.8 L576.0,1169.4 L579.0,1169.1 L582.0,1168.7 L585.0,1168.3 L588.0,1168.0 L591.0,1167.6 L594.0,1167.3 L597.0,1166.9 L600.0,1166.5 L603.0,1166.2 L606.0,1165.8 L609.0,1165.4 L612.0,1165.1 L615.0,1164.7 L618.0,1164.3 L621.0,1164.0 L624.0,1163.6 L627.0,1163.2 L630.0,1162.9 L633.0,1162.5 L636.0,1162.2 L639.0,1161.8 L642.0,1161.4 L645.0,1161.1 L648.0,1160.7 L651.0,1160.4 L654.0,1160.1 L657.0,1159.7 L660.0,1159.4 L663.0,1159.0 L666.0,1158.7 L669.0,1158.4 L672.0,1158.0 L675.0,1157.7 L678.0,1157.4 L681.0,1157.1 L684.0,1156.8 L687.0,1156.5 L690.0,1156.2 L693.0,1155.9 L696.0,1155.6 L699.0,1155.3 L702.0,1155.0 L705.0,1154.7 L708.0,1154.4 L711.0,1154.2 L714.0,1153.9 L717.0,1153.7 L720.0,1153.4 L723.0,1153.2 L726.0,1152.9 L729.0,1152.7 L732.0,1152.5 L735.0,1152.3 L738.0,1152.1 L741.0,1151.9 L744.0,1151.7 L747.0,1151.5 L750.0,1151.3 L753.0,1151.2 L756.0,1151.0 L759.0,1150.8 L762.0,1150.7 L765.0,1150.6 L768.0,1150.5 L771.0,1150.3 L774.0,1150.2 L777.0,1150.2 L780.0,1150.1 L783.0,1150.0 L786.0,1149.9 L789.0,1149.9 L792.0,1149.9 L795.0,1149.8 L798.0,1149.8 L801.0,1149.8 L804.0,1149.8 L807.0,1149.8 L810.0,1149.9 L813.0,1149.9 L816.0,1150.0 L819.0,1150.1 L822.0,1150.1 L825.0,1150.2 L828.0,1150.4 L831.0,1150.5 L834.0,1150.6 L837.0,1150.8 L840.0,1150.9 L843.0,1151.1 L846.0,1151.3 L849.0,1151.5 L852.0,1151.7 L855.0,1152.0 L858.0,1152.2 L861.0,1152.5 L864.0,1152.8 L867.0,1153.1 L870.0,1153.4 L873.0,1153.8 L876.0,1154.1 L879.0,1154.5 L882.0,1154.9 L885.0,1155.3 L888.0,1155.7 L891.0,1156.1 L894.0,1156.6 L897.0,1157.1 L900.0,1157.6 L903.0,1158.1 L906.0,1158.6 L909.0,1159.2 L912.0,1159.7 L915.0,1160.3 L918.0,1160.9 L921.0,1161.6 L924.0,1162.2 L927.0,1162.9 L930.0,1163.5 L933.0,1164.3 L936.0,1165.0 L939.0,1165.7 L942.0,1166.5 L945.0,1167.3 L948.0,1168.1 L951.0,1168.9 L954.0,1169.8 L957.0,1170.7 L960.0,1171.6 L963.0,1172.5 L966.0,1173.4 L969.0,1174.4 L972.0,1175.4 L975.0,1176.4 L978.0,1177.4 L981.0,1178.5 L984.0,1179.6 L987.0,1180.7 L990.0,1181.8 L993.0,1183.0 L996.0,1184.2 L999.0,1185.4 L1002.0,1186.6 L1005.0,1187.8 L1008.0,1189.1 L1011.0,1190.4 L1014.0,1191.8 L1017.0,1193.1 L1020.0,1194.5 L1023.0,1195.9 L1026.0,1197.4 L1029.0,1198.8 L1032.0,1200.3 L1035.0,1201.8 L1038.0,1203.4 L1041.0,1204.9 L1044.0,1206.5 L1047.0,1208.2 L1050.0,1209.8 L1053.0,1211.5 L1056.0,1213.2 L1059.0,1215.0 L1062.0,1216.7 L1065.0,1218.5 L1068.0,1220.4 L1071.0,1222.2 L1074.0,1224.1 L1077.0,1226.0 L1080.0,1228.0 L1083.0,1229.9 L1086.0,1231.9 L1089.0,1234.0 L1092.0,1236.1 L1095.0,1238.2 L1098.0,1240.3 L1101.0,1242.4 L1104.0,1244.6 L1107.0,1246.9 L1110.0,1249.1 L1113.0,1251.4 L1116.0,1253.7 L1119.0,1256.1 L1122.0,1258.5 L1125.0,1260.9 L1128.0,1263.4 L1131.0,1265.8 L1134.0,1268.4 L1137.0,1270.9 L1140.0,1273.5 L1143.0,1276.1 L1146.0,1278.8 L1149.0,1281.5 L1152.0,1284.2 L1155.0,1287.0 L1158.0,1289.8 L1161.0,1292.6 L1164.0,1295.5 L1167.0,1298.4 L1170.0,1301.3 L1171.0,1302.3" stroke="#1A6FDF" stroke-width="4.5" fill="none" stroke-linejoin="round"/>
<path d="M210.0,1176.1 L213.0,1176.9 L216.0,1177.7 L219.0,1178.4 L222.0,1179.2 L225.0,1179.9 L228.0,1180.7 L231.0,1181.4 L234.0,1182.1 L237.0,1182.7 L240.0,1183.4 L243.0,1184.0 L246.0,1184.7 L249.0,1185.3 L252.0,1185.9 L255.0,1186.4 L258.0,1187.0 L261.0,1187.6 L264.0,1188.1 L267.0,1188.6 L270.0,1189.1 L273.0,1189.6 L276.0,1190.1 L279.0,1190.5 L282.0,1191.0 L285.0,1191.4 L288.0,1191.8 L291.0,1192.3 L294.0,1192.6 L297.0,1193.0 L300.0,1193.4 L303.0,1193.7 L306.0,1194.1 L309.0,1194.4 L312.0,1194.7 L315.0,1195.0 L318.0,1195.3 L321.0,1195.6 L324.0,1195.9 L327.0,1196.1 L330.0,1196.4 L333.0,1196.6 L336.0,1196.8 L339.0,1197.1 L342.0,1197.3 L345.0,1197.4 L348.0,1197.6 L351.0,1197.8 L354.0,1198.0 L357.0,1198.1 L360.0,1198.2 L363.0,1198.4 L366.0,1198.5 L369.0,1198.6 L372.0,1198.7 L375.0,1198.8 L378.0,1198.9 L381.0,1199.0 L384.0,1199.0 L387.0,1199.1 L390.0,1199.1 L393.0,1199.2 L396.0,1199.2 L399.0,1199.2 L402.0,1199.2 L405.0,1199.3 L408.0,1199.3 L411.0,1199.3 L414.0,1199.2 L417.0,1199.2 L420.0,1199.2 L423.0,1199.2 L426.0,1199.1 L429.0,1199.1 L432.0,1199.0 L435.0,1199.0 L438.0,1198.9 L441.0,1198.8 L444.0,1198.8 L447.0,1198.7 L450.0,1198.6 L453.0,1198.5 L456.0,1198.4 L459.0,1198.3 L462.0,1198.2 L465.0,1198.1 L468.0,1198.0 L471.0,1197.8 L474.0,1197.7 L477.0,1197.6 L480.0,1197.5 L483.0,1197.3 L486.0,1197.2 L489.0,1197.1 L492.0,1196.9 L495.0,1196.8 L498.0,1196.6 L501.0,1196.5 L504.0,1196.3 L507.0,1196.1 L510.0,1196.0 L513.0,1195.8 L516.0,1195.7 L519.0,1195.5 L522.0,1195.3 L525.0,1195.2 L528.0,1195.0 L531.0,1194.8 L534.0,1194.6 L537.0,1194.5 L540.0,1194.3 L543.0,1194.1 L546.0,1194.0 L549.0,1193.8 L552.0,1193.6 L555.0,1193.4 L558.0,1193.3 L561.0,1193.1 L564.0,1192.9 L567.0,1192.7 L570.0,1192.6 L573.0,1192.4 L576.0,1192.2 L579.0,1192.1 L582.0,1191.9 L585.0,1191.7 L588.0,1191.6 L591.0,1191.4 L594.0,1191.3 L597.0,1191.1 L600.0,1191.0 L603.0,1190.8 L606.0,1190.7 L609.0,1190.5 L612.0,1190.4 L615.0,1190.2 L618.0,1190.1 L621.0,1190.0 L624.0,1189.8 L627.0,1189.7 L630.0,1189.6 L633.0,1189.5 L636.0,1189.4 L639.0,1189.3 L642.0,1189.2 L645.0,1189.1 L648.0,1189.0 L651.0,1188.9 L654.0,1188.8 L657.0,1188.7 L660.0,1188.7 L663.0,1188.6 L666.0,1188.5 L669.0,1188.5 L672.0,1188.4 L675.0,1188.4 L678.0,1188.4 L681.0,1188.3 L684.0,1188.3 L687.0,1188.3 L690.0,1188.3 L693.0,1188.3 L696.0,1188.3 L699.0,1188.3 L702.0,1188.3 L705.0,1188.4 L708.0,1188.4 L711.0,1188.5 L714.0,1188.5 L717.0,1188.6 L720.0,1188.7 L723.0,1188.7 L726.0,1188.8 L729.0,1188.9 L732.0,1189.0 L735.0,1189.2 L738.0,1189.3 L741.0,1189.4 L744.0,1189.6 L747.0,1189.7 L750.0,1189.9 L753.0,1190.1 L756.0,1190.3 L759.0,1190.5 L762.0,1190.7 L765.0,1190.9 L768.0,1191.1 L771.0,1191.4 L774.0,1191.7 L777.0,1191.9 L780.0,1192.2 L783.0,1192.5 L786.0,1192.8 L789.0,1193.1 L792.0,1193.4 L795.0,1193.8 L798.0,1194.1 L801.0,1194.5 L804.0,1194.9 L807.0,1195.3 L810.0,1195.7 L813.0,1196.1 L816.0,1196.5 L819.0,1197.0 L822.0,1197.4 L825.0,1197.9 L828.0,1198.4 L831.0,1198.9 L834.0,1199.4 L837.0,1200.0 L840.0,1200.5 L843.0,1201.1 L846.0,1201.6 L849.0,1202.2 L852.0,1202.9 L855.0,1203.5 L858.0,1204.1 L861.0,1204.8 L864.0,1205.4 L867.0,1206.1 L870.0,1206.8 L873.0,1207.6 L876.0,1208.3 L879.0,1209.1 L882.0,1209.8 L885.0,1210.6 L888.0,1211.4 L891.0,1212.3 L894.0,1213.1 L897.0,1214.0 L900.0,1214.8 L903.0,1215.7 L906.0,1216.6 L909.0,1217.6 L912.0,1218.5 L915.0,1219.5 L918.0,1220.5 L921.0,1221.5 L924.0,1222.5 L927.0,1223.6 L930.0,1224.6 L933.0,1225.7 L936.0,1226.8 L939.0,1228.0 L942.0,1229.1 L945.0,1230.3 L948.0,1231.5 L951.0,1232.7 L954.0,1233.9 L957.0,1235.2 L960.0,1236.4 L963.0,1237.7 L966.0,1239.0 L969.0,1240.4 L972.0,1241.7 L975.0,1243.1 L978.0,1244.5 L981.0,1245.9 L984.0,1247.4 L987.0,1248.8 L990.0,1250.3 L993.0,1251.8 L996.0,1253.4 L999.0,1254.9 L1002.0,1256.5 L1005.0,1258.1 L1008.0,1259.8 L1011.0,1261.4 L1014.0,1263.1 L1017.0,1264.8 L1020.0,1266.5 L1023.0,1268.3 L1026.0,1270.0 L1029.0,1271.8 L1032.0,1273.7 L1035.0,1275.5 L1038.0,1277.4 L1041.0,1279.3 L1044.0,1281.2 L1047.0,1283.2 L1050.0,1285.1 L1053.0,1287.1 L1056.0,1289.2 L1059.0,1291.2 L1062.0,1293.3 L1065.0,1295.4 L1068.0,1297.5 L1071.0,1299.7 L1074.0,1301.9 L1077.0,1304.1 L1080.0,1306.3 L1083.0,1308.6 L1086.0,1310.9 L1089.0,1313.2 L1092.0,1315.6 L1095.0,1318.0 L1098.0,1320.4 L1101.0,1322.8 L1104.0,1325.3 L1107.0,1327.8 L1110.0,1330.3 L1113.0,1332.8 L1116.0,1335.4 L1119.0,1338.0 L1122.0,1340.7 L1125.0,1343.3 L1128.0,1346.0 L1131.0,1348.8 L1134.0,1351.5 L1137.0,1354.3 L1140.0,1357.1 L1143.0,1360.0 L1146.0,1362.9 L1149.0,1365.8 L1152.0,1368.7 L1155.0,1371.7 L1158.0,1374.7 L1161.0,1377.8 L1164.0,1380.8 L1167.0,1383.9 L1170.0,1387.1 L1171.0,1388.1" stroke="#37AD6B" stroke-width="4.5" fill="none" stroke-linejoin="round"/>
<path d="M210.0,1163.7 L213.0,1164.5 L216.0,1165.3 L219.0,1166.0 L222.0,1166.8 L225.0,1167.5 L228.0,1168.2 L231.0,1168.9 L234.0,1169.6 L237.0,1170.3 L240.0,1171.0 L243.0,1171.6 L246.0,1172.2 L249.0,1172.9 L252.0,1173.5 L255.0,1174.1 L258.0,1174.7 L261.0,1175.3 L264.0,1175.9 L267.0,1176.4 L270.0,1177.0 L273.0,1177.5 L276.0,1178.0 L279.0,1178.6 L282.0,1179.1 L285.0,1179.5 L288.0,1180.0 L291.0,1180.5 L294.0,1181.0 L297.0,1181.4 L300.0,1181.9 L303.0,1182.3 L306.0,1182.7 L309.0,1183.1 L312.0,1183.5 L315.0,1183.9 L318.0,1184.3 L321.0,1184.6 L324.0,1185.0 L327.0,1185.3 L330.0,1185.7 L333.0,1186.0 L336.0,1186.3 L339.0,1186.6 L342.0,1186.9 L345.0,1187.2 L348.0,1187.5 L351.0,1187.8 L354.0,1188.0 L357.0,1188.3 L360.0,1188.5 L363.0,1188.8 L366.0,1189.0 L369.0,1189.2 L372.0,1189.4 L375.0,1189.6 L378.0,1189.8 L381.0,1190.0 L384.0,1190.2 L387.0,1190.3 L390.0,1190.5 L393.0,1190.7 L396.0,1190.8 L399.0,1190.9 L402.0,1191.1 L405.0,1191.2 L408.0,1191.3 L411.0,1191.4 L414.0,1191.5 L417.0,1191.6 L420.0,1191.7 L423.0,1191.7 L426.0,1191.8 L429.0,1191.9 L432.0,1191.9 L435.0,1192.0 L438.0,1192.0 L441.0,1192.0 L444.0,1192.1 L447.0,1192.1 L450.0,1192.1 L453.0,1192.1 L456.0,1192.1 L459.0,1192.1 L462.0,1192.1 L465.0,1192.1 L468.0,1192.1 L471.0,1192.0 L474.0,1192.0 L477.0,1192.0 L480.0,1191.9 L483.0,1191.9 L486.0,1191.8 L489.0,1191.7 L492.0,1191.7 L495.0,1191.6 L498.0,1191.5 L501.0,1191.4 L504.0,1191.3 L507.0,1191.2 L510.0,1191.2 L513.0,1191.0 L516.0,1190.9 L519.0,1190.8 L522.0,1190.7 L525.0,1190.6 L528.0,1190.5 L531.0,1190.3 L534.0,1190.2 L537.0,1190.1 L540.0,1189.9 L543.0,1189.8 L546.0,1189.6 L549.0,1189.5 L552.0,1189.3 L555.0,1189.2 L558.0,1189.0 L561.0,1188.8 L564.0,1188.7 L567.0,1188.5 L570.0,1188.3 L573.0,1188.1 L576.0,1187.9 L579.0,1187.7 L582.0,1187.6 L585.0,1187.4 L588.0,1187.2 L591.0,1187.0 L594.0,1186.8 L597.0,1186.6 L600.0,1186.4 L603.0,1186.2 L606.0,1186.0 L609.0,1185.7 L612.0,1185.5 L615.0,1185.3 L618.0,1185.1 L621.0,1184.9 L624.0,1184.7 L627.0,1184.4 L630.0,1184.2 L633.0,1184.0 L636.0,1183.8 L639.0,1183.5 L642.0,1183.3 L645.0,1183.1 L648.0,1182.8 L651.0,1182.6 L654.0,1182.4 L657.0,1182.2 L660.0,1181.9 L663.0,1181.7 L666.0,1181.4 L669.0,1181.2 L672.0,1181.0 L675.0,1180.7 L678.0,1180.5 L681.0,1180.3 L684.0,1180.0 L687.0,1179.8 L690.0,1179.6 L693.0,1179.3 L696.0,1179.1 L699.0,1178.9 L702.0,1178.6 L705.0,1178.4 L708.0,1178.2 L711.0,1177.9 L714.0,1177.7 L717.0,1177.5 L720.0,1177.3 L723.0,1177.0 L726.0,1176.8 L729.0,1176.6 L732.0,1176.4 L735.0,1176.2 L738.0,1176.0 L741.0,1175.8 L744.0,1175.6 L747.0,1175.4 L750.0,1175.2 L753.0,1175.0 L756.0,1174.8 L759.0,1174.7 L762.0,1174.5 L765.0,1174.3 L768.0,1174.2 L771.0,1174.0 L774.0,1173.9 L777.0,1173.7 L780.0,1173.6 L783.0,1173.5 L786.0,1173.4 L789.0,1173.3 L792.0,1173.2 L795.0,1173.1 L798.0,1173.0 L801.0,1172.9 L804.0,1172.8 L807.0,1172.8 L810.0,1172.7 L813.0,1172.7 L816.0,1172.6 L819.0,1172.6 L822.0,1172.6 L825.0,1172.6 L828.0,1172.6 L831.0,1172.6 L834.0,1172.7 L837.0,1172.7 L840.0,1172.7 L843.0,1172.8 L846.0,1172.9 L849.0,1173.0 L852.0,1173.1 L855.0,1173.2 L858.0,1173.3 L861.0,1173.4 L864.0,1173.6 L867.0,1173.7 L870.0,1173.9 L873.0,1174.1 L876.0,1174.3 L879.0,1174.5 L882.0,1174.7 L885.0,1175.0 L888.0,1175.2 L891.0,1175.5 L894.0,1175.8 L897.0,1176.1 L900.0,1176.4 L903.0,1176.8 L906.0,1177.1 L909.0,1177.5 L912.0,1177.9 L915.0,1178.3 L918.0,1178.7 L921.0,1179.1 L924.0,1179.6 L927.0,1180.1 L930.0,1180.5 L933.0,1181.0 L936.0,1181.6 L939.0,1182.1 L942.0,1182.7 L945.0,1183.3 L948.0,1183.9 L951.0,1184.5 L954.0,1185.1 L957.0,1185.8 L960.0,1186.4 L963.0,1187.1 L966.0,1187.8 L969.0,1188.6 L972.0,1189.3 L975.0,1190.1 L978.0,1190.9 L981.0,1191.7 L984.0,1192.5 L987.0,1193.4 L990.0,1194.3 L993.0,1195.1 L996.0,1196.1 L999.0,1197.0 L1002.0,1197.9 L1005.0,1198.9 L1008.0,1199.9 L1011.0,1200.9 L1014.0,1202.0 L1017.0,1203.0 L1020.0,1204.1 L1023.0,1205.2 L1026.0,1206.4 L1029.0,1207.5 L1032.0,1208.7 L1035.0,1209.9 L1038.0,1211.1 L1041.0,1212.3 L1044.0,1213.6 L1047.0,1214.9 L1050.0,1216.2 L1053.0,1217.5 L1056.0,1218.8 L1059.0,1220.2 L1062.0,1221.6 L1065.0,1223.0 L1068.0,1224.5 L1071.0,1226.0 L1074.0,1227.5 L1077.0,1229.0 L1080.0,1230.5 L1083.0,1232.1 L1086.0,1233.7 L1089.0,1235.3 L1092.0,1236.9 L1095.0,1238.6 L1098.0,1240.3 L1101.0,1242.0 L1104.0,1243.7 L1107.0,1245.5 L1110.0,1247.3 L1113.0,1249.1 L1116.0,1250.9 L1119.0,1252.8 L1122.0,1254.7 L1125.0,1256.6 L1128.0,1258.5 L1131.0,1260.5 L1134.0,1262.5 L1137.0,1264.5 L1140.0,1266.5 L1143.0,1268.6 L1146.0,1270.7 L1149.0,1272.8 L1152.0,1275.0 L1155.0,1277.1 L1158.0,1279.3 L1161.0,1281.5 L1164.0,1283.8 L1167.0,1286.1 L1170.0,1288.4 L1171.0,1289.2" stroke="#B177DE" stroke-width="4.5" fill="none" stroke-linejoin="round"/>
<text transform="translate(51.8,1019.3) scale(1.025,1)" font-size="102.3">(c)</text>
<text x="135.3" y="1147.0" font-size="45.5">1.0</text>
<text x="135.1" y="1369.0" font-size="45.5">0.8</text>
<text x="134.9" y="1591.0" font-size="45.5">0.6</text>
<text x="134.4" y="1813.0" font-size="45.5">0.4</text>
<text x="292.4" y="1852.0" font-size="45.5">7</text>
<text x="486.0" y="1852.0" font-size="45.5">8</text>
<text x="679.0" y="1852.0" font-size="45.5">9</text>
<text x="859.5" y="1852.0" font-size="45.5">10</text>
<text x="1053.8" y="1852.0" font-size="45.5">11</text>
<text transform="translate(97.8,1622.2) rotate(-90) scale(1.016,1)" font-size="86.0">Absorption</text>
<text transform="translate(374.7,1944.8) scale(0.987,1)" font-size="90.0">Wavelength(μm)</text>
<path d="M569.9,1303H682.2" stroke="#515151" stroke-width="5"/>
<path d="M569.9,1377.1H682.2" stroke="#F14040" stroke-width="5"/>
<path d="M569.9,1451.1H682.2" stroke="#1A6FDF" stroke-width="5"/>
<path d="M569.9,1525.2H682.2" stroke="#37AD6B" stroke-width="5"/>
<path d="M569.9,1599.3H682.2" stroke="#B177DE" stroke-width="5"/>
<text transform="translate(694.8,1320.3) scale(0.959,1)" font-size="66.5">800 nm</text>
<text transform="translate(694.8,1394.8) scale(0.959,1)" font-size="66.5">830 nm</text>
<text transform="translate(694.8,1468.8) scale(0.959,1)" font-size="66.5">860 nm</text>
<text transform="translate(694.8,1542.9) scale(0.959,1)" font-size="66.5">890 nm</text>
<text transform="translate(695.1,1616.9) scale(0.959,1)" font-size="66.5">920 nm</text>
<path d="M1359,1024H2326" stroke="#a0a0a0" stroke-width="3.5" fill="none"/>
<path d="M2326,1022.25V1806.75" stroke="#8a8a8a" stroke-width="3.5" fill="none"/>
<path d="M1359,1805H2326" stroke="#959595" stroke-width="3.5" fill="none"/>
<path d="M1359,1022.25V1806.75" stroke="#8e8e8e" stroke-width="3.5" fill="none"/>
<path d="M1361.0,1109.7 L1364.0,1110.4 L1367.0,1111.0 L1370.0,1111.6 L1373.0,1112.2 L1376.0,1112.8 L1379.0,1113.3 L1382.0,1113.9 L1385.0,1114.4 L1388.0,1115.0 L1391.0,1115.5 L1394.0,1116.0 L1397.0,1116.5 L1400.0,1117.0 L1403.0,1117.4 L1406.0,1117.9 L1409.0,1118.3 L1412.0,1118.7 L1415.0,1119.2 L1418.0,1119.6 L1421.0,1120.0 L1424.0,1120.3 L1427.0,1120.7 L1430.0,1121.1 L1433.0,1121.4 L1436.0,1121.7 L1439.0,1122.1 L1442.0,1122.4 L1445.0,1122.7 L1448.0,1123.0 L1451.0,1123.2 L1454.0,1123.5 L1457.0,1123.8 L1460.0,1124.0 L1463.0,1124.3 L1466.0,1124.5 L1469.0,1124.7 L1472.0,1124.9 L1475.0,1125.1 L1478.0,1125.3 L1481.0,1125.5 L1484.0,1125.6 L1487.0,1125.8 L1490.0,1125.9 L1493.0,1126.1 L1496.0,1126.2 L1499.0,1126.3 L1502.0,1126.5 L1505.0,1126.6 L1508.0,1126.7 L1511.0,1126.7 L1514.0,1126.8 L1517.0,1126.9 L1520.0,1126.9 L1523.0,1127.0 L1526.0,1127.0 L1529.0,1127.1 L1532.0,1127.1 L1535.0,1127.1 L1538.0,1127.1 L1541.0,1127.2 L1544.0,1127.2 L1547.0,1127.1 L1550.0,1127.1 L1553.0,1127.1 L1556.0,1127.1 L1559.0,1127.0 L1562.0,1127.0 L1565.0,1127.0 L1568.0,1126.9 L1571.0,1126.8 L1574.0,1126.8 L1577.0,1126.7 L1580.0,1126.6 L1583.0,1126.5 L1586.0,1126.4 L1589.0,1126.3 L1592.0,1126.2 L1595.0,1126.1 L1598.0,1126.0 L1601.0,1125.9 L1604.0,1125.8 L1607.0,1125.6 L1610.0,1125.5 L1613.0,1125.3 L1616.0,1125.2 L1619.0,1125.1 L1622.0,1124.9 L1625.0,1124.7 L1628.0,1124.6 L1631.0,1124.4 L1634.0,1124.2 L1637.0,1124.1 L1640.0,1123.9 L1643.0,1123.7 L1646.0,1123.5 L1649.0,1123.3 L1652.0,1123.1 L1655.0,1122.9 L1658.0,1122.7 L1661.0,1122.5 L1664.0,1122.3 L1667.0,1122.1 L1670.0,1121.9 L1673.0,1121.7 L1676.0,1121.5 L1679.0,1121.2 L1682.0,1121.0 L1685.0,1120.8 L1688.0,1120.6 L1691.0,1120.3 L1694.0,1120.1 L1697.0,1119.9 L1700.0,1119.6 L1703.0,1119.4 L1706.0,1119.1 L1709.0,1118.9 L1712.0,1118.7 L1715.0,1118.4 L1718.0,1118.2 L1721.0,1117.9 L1724.0,1117.7 L1727.0,1117.4 L1730.0,1117.2 L1733.0,1116.9 L1736.0,1116.7 L1739.0,1116.4 L1742.0,1116.2 L1745.0,1115.9 L1748.0,1115.7 L1751.0,1115.4 L1754.0,1115.2 L1757.0,1114.9 L1760.0,1114.7 L1763.0,1114.5 L1766.0,1114.2 L1769.0,1114.0 L1772.0,1113.7 L1775.0,1113.5 L1778.0,1113.2 L1781.0,1113.0 L1784.0,1112.7 L1787.0,1112.5 L1790.0,1112.3 L1793.0,1112.0 L1796.0,1111.8 L1799.0,1111.6 L1802.0,1111.3 L1805.0,1111.1 L1808.0,1110.9 L1811.0,1110.6 L1814.0,1110.4 L1817.0,1110.2 L1820.0,1110.0 L1823.0,1109.8 L1826.0,1109.6 L1829.0,1109.4 L1832.0,1109.1 L1835.0,1108.9 L1838.0,1108.7 L1841.0,1108.6 L1844.0,1108.4 L1847.0,1108.2 L1850.0,1108.0 L1853.0,1107.8 L1856.0,1107.6 L1859.0,1107.5 L1862.0,1107.3 L1865.0,1107.1 L1868.0,1107.0 L1871.0,1106.8 L1874.0,1106.6 L1877.0,1106.5 L1880.0,1106.4 L1883.0,1106.2 L1886.0,1106.1 L1889.0,1106.0 L1892.0,1105.8 L1895.0,1105.7 L1898.0,1105.6 L1901.0,1105.5 L1904.0,1105.4 L1907.0,1105.3 L1910.0,1105.2 L1913.0,1105.1 L1916.0,1105.1 L1919.0,1105.0 L1922.0,1104.9 L1925.0,1104.9 L1928.0,1104.8 L1931.0,1104.8 L1934.0,1104.7 L1937.0,1104.7 L1940.0,1104.7 L1943.0,1104.6 L1946.0,1104.6 L1949.0,1104.6 L1952.0,1104.6 L1955.0,1104.6 L1958.0,1104.7 L1961.0,1104.7 L1964.0,1104.7 L1967.0,1104.8 L1970.0,1104.8 L1973.0,1104.9 L1976.0,1104.9 L1979.0,1105.0 L1982.0,1105.1 L1985.0,1105.2 L1988.0,1105.3 L1991.0,1105.4 L1994.0,1105.5 L1997.0,1105.7 L2000.0,1105.8 L2003.0,1105.9 L2006.0,1106.1 L2009.0,1106.3 L2012.0,1106.4 L2015.0,1106.6 L2018.0,1106.8 L2021.0,1107.0 L2024.0,1107.2 L2027.0,1107.4 L2030.0,1107.7 L2033.0,1107.9 L2036.0,1108.2 L2039.0,1108.4 L2042.0,1108.7 L2045.0,1109.0 L2048.0,1109.3 L2051.0,1109.6 L2054.0,1109.9 L2057.0,1110.3 L2060.0,1110.6 L2063.0,1110.9 L2066.0,1111.3 L2069.0,1111.7 L2072.0,1112.1 L2075.0,1112.5 L2078.0,1112.9 L2081.0,1113.3 L2084.0,1113.7 L2087.0,1114.2 L2090.0,1114.7 L2093.0,1115.1 L2096.0,1115.6 L2099.0,1116.1 L2102.0,1116.6 L2105.0,1117.1 L2108.0,1117.7 L2111.0,1118.2 L2114.0,1118.8 L2117.0,1119.4 L2120.0,1120.0 L2123.0,1120.6 L2126.0,1121.2 L2129.0,1121.8 L2132.0,1122.4 L2135.0,1123.1 L2138.0,1123.8 L2141.0,1124.5 L2144.0,1125.2 L2147.0,1125.9 L2150.0,1126.6 L2153.0,1127.4 L2156.0,1128.1 L2159.0,1128.9 L2162.0,1129.7 L2165.0,1130.5 L2168.0,1131.4 L2171.0,1132.2 L2174.0,1133.1 L2177.0,1133.9 L2180.0,1134.8 L2183.0,1135.8 L2186.0,1136.7 L2189.0,1137.6 L2192.0,1138.6 L2195.0,1139.6 L2198.0,1140.6 L2201.0,1141.6 L2204.0,1142.6 L2207.0,1143.7 L2210.0,1144.8 L2213.0,1145.8 L2216.0,1147.0 L2219.0,1148.1 L2222.0,1149.2 L2225.0,1150.4 L2228.0,1151.6 L2231.0,1152.8 L2234.0,1154.0 L2237.0,1155.3 L2240.0,1156.5 L2243.0,1157.8 L2246.0,1159.1 L2249.0,1160.5 L2252.0,1161.8 L2255.0,1163.2 L2258.0,1164.6 L2261.0,1166.0 L2264.0,1167.4 L2267.0,1168.9 L2270.0,1170.4 L2273.0,1171.9 L2276.0,1173.4 L2279.0,1174.9 L2282.0,1176.5 L2285.0,1178.1 L2288.0,1179.7 L2291.0,1181.4 L2294.0,1183.0 L2297.0,1184.7 L2300.0,1186.4 L2303.0,1188.1 L2306.0,1189.9 L2309.0,1191.7 L2312.0,1193.5 L2315.0,1195.3 L2318.0,1197.2 L2321.0,1199.0 L2324.0,1200.9 L2324.5,1201.3" stroke="#515151" stroke-width="4.5" fill="none" stroke-linejoin="round"/>
<path d="M1361.0,1157.6 L1364.0,1157.9 L1367.0,1158.2 L1370.0,1158.5 L1373.0,1158.8 L1376.0,1159.0 L1379.0,1159.3 L1382.0,1159.5 L1385.0,1159.7 L1388.0,1159.9 L1391.0,1160.2 L1394.0,1160.4 L1397.0,1160.6 L1400.0,1160.7 L1403.0,1160.9 L1406.0,1161.1 L1409.0,1161.3 L1412.0,1161.4 L1415.0,1161.6 L1418.0,1161.7 L1421.0,1161.9 L1424.0,1162.0 L1427.0,1162.1 L1430.0,1162.3 L1433.0,1162.4 L1436.0,1162.5 L1439.0,1162.6 L1442.0,1162.7 L1445.0,1162.8 L1448.0,1162.9 L1451.0,1162.9 L1454.0,1163.0 L1457.0,1163.1 L1460.0,1163.1 L1463.0,1163.2 L1466.0,1163.3 L1469.0,1163.3 L1472.0,1163.3 L1475.0,1163.4 L1478.0,1163.4 L1481.0,1163.4 L1484.0,1163.5 L1487.0,1163.5 L1490.0,1163.5 L1493.0,1163.5 L1496.0,1163.5 L1499.0,1163.5 L1502.0,1163.5 L1505.0,1163.5 L1508.0,1163.5 L1511.0,1163.5 L1514.0,1163.5 L1517.0,1163.5 L1520.0,1163.4 L1523.0,1163.4 L1526.0,1163.4 L1529.0,1163.4 L1532.0,1163.3 L1535.0,1163.3 L1538.0,1163.3 L1541.0,1163.2 L1544.0,1163.2 L1547.0,1163.1 L1550.0,1163.1 L1553.0,1163.0 L1556.0,1163.0 L1559.0,1162.9 L1562.0,1162.9 L1565.0,1162.8 L1568.0,1162.8 L1571.0,1162.7 L1574.0,1162.7 L1577.0,1162.6 L1580.0,1162.5 L1583.0,1162.5 L1586.0,1162.4 L1589.0,1162.4 L1592.0,1162.3 L1595.0,1162.2 L1598.0,1162.2 L1601.0,1162.1 L1604.0,1162.0 L1607.0,1162.0 L1610.0,1161.9 L1613.0,1161.9 L1616.0,1161.8 L1619.0,1161.7 L1622.0,1161.7 L1625.0,1161.6 L1628.0,1161.6 L1631.0,1161.5 L1634.0,1161.4 L1637.0,1161.4 L1640.0,1161.3 L1643.0,1161.3 L1646.0,1161.2 L1649.0,1161.2 L1652.0,1161.1 L1655.0,1161.1 L1658.0,1161.0 L1661.0,1161.0 L1664.0,1161.0 L1667.0,1160.9 L1670.0,1160.9 L1673.0,1160.9 L1676.0,1160.8 L1679.0,1160.8 L1682.0,1160.8 L1685.0,1160.7 L1688.0,1160.7 L1691.0,1160.7 L1694.0,1160.7 L1697.0,1160.7 L1700.0,1160.7 L1703.0,1160.7 L1706.0,1160.7 L1709.0,1160.7 L1712.0,1160.7 L1715.0,1160.7 L1718.0,1160.7 L1721.0,1160.8 L1724.0,1160.8 L1727.0,1160.8 L1730.0,1160.9 L1733.0,1160.9 L1736.0,1161.0 L1739.0,1161.0 L1742.0,1161.1 L1745.0,1161.1 L1748.0,1161.2 L1751.0,1161.3 L1754.0,1161.4 L1757.0,1161.4 L1760.0,1161.5 L1763.0,1161.6 L1766.0,1161.7 L1769.0,1161.8 L1772.0,1161.9 L1775.0,1162.1 L1778.0,1162.2 L1781.0,1162.3 L1784.0,1162.5 L1787.0,1162.6 L1790.0,1162.8 L1793.0,1162.9 L1796.0,1163.1 L1799.0,1163.3 L1802.0,1163.5 L1805.0,1163.6 L1808.0,1163.8 L1811.0,1164.1 L1814.0,1164.3 L1817.0,1164.5 L1820.0,1164.7 L1823.0,1165.0 L1826.0,1165.2 L1829.0,1165.5 L1832.0,1165.7 L1835.0,1166.0 L1838.0,1166.3 L1841.0,1166.6 L1844.0,1166.9 L1847.0,1167.2 L1850.0,1167.5 L1853.0,1167.8 L1856.0,1168.1 L1859.0,1168.5 L1862.0,1168.8 L1865.0,1169.2 L1868.0,1169.6 L1871.0,1169.9 L1874.0,1170.3 L1877.0,1170.7 L1880.0,1171.2 L1883.0,1171.6 L1886.0,1172.0 L1889.0,1172.5 L1892.0,1172.9 L1895.0,1173.4 L1898.0,1173.9 L1901.0,1174.3 L1904.0,1174.8 L1907.0,1175.3 L1910.0,1175.9 L1913.0,1176.4 L1916.0,1176.9 L1919.0,1177.5 L1922.0,1178.1 L1925.0,1178.7 L1928.0,1179.2 L1931.0,1179.8 L1934.0,1180.5 L1937.0,1181.1 L1940.0,1181.7 L1943.0,1182.4 L1946.0,1183.1 L1949.0,1183.7 L1952.0,1184.4 L1955.0,1185.1 L1958.0,1185.8 L1961.0,1186.6 L1964.0,1187.3 L1967.0,1188.1 L1970.0,1188.9 L1973.0,1189.6 L1976.0,1190.4 L1979.0,1191.2 L1982.0,1192.1 L1985.0,1192.9 L1988.0,1193.8 L1991.0,1194.6 L1994.0,1195.5 L1997.0,1196.4 L2000.0,1197.3 L2003.0,1198.3 L2006.0,1199.2 L2009.0,1200.2 L2012.0,1201.1 L2015.0,1202.1 L2018.0,1203.1 L2021.0,1204.2 L2024.0,1205.2 L2027.0,1206.2 L2030.0,1207.3 L2033.0,1208.4 L2036.0,1209.5 L2039.0,1210.6 L2042.0,1211.7 L2045.0,1212.9 L2048.0,1214.0 L2051.0,1215.2 L2054.0,1216.4 L2057.0,1217.6 L2060.0,1218.9 L2063.0,1220.1 L2066.0,1221.4 L2069.0,1222.7 L2072.0,1224.0 L2075.0,1225.3 L2078.0,1226.6 L2081.0,1228.0 L2084.0,1229.3 L2087.0,1230.7 L2090.0,1232.1 L2093.0,1233.5 L2096.0,1235.0 L2099.0,1236.4 L2102.0,1237.9 L2105.0,1239.4 L2108.0,1240.9 L2111.0,1242.4 L2114.0,1244.0 L2117.0,1245.5 L2120.0,1247.1 L2123.0,1248.7 L2126.0,1250.3 L2129.0,1251.9 L2132.0,1253.5 L2135.0,1255.1 L2138.0,1256.8 L2141.0,1258.5 L2144.0,1260.1 L2147.0,1261.8 L2150.0,1263.5 L2153.0,1265.2 L2156.0,1267.0 L2159.0,1268.7 L2162.0,1270.5 L2165.0,1272.2 L2168.0,1274.0 L2171.0,1275.8 L2174.0,1277.6 L2177.0,1279.4 L2180.0,1281.2 L2183.0,1283.1 L2186.0,1284.9 L2189.0,1286.8 L2192.0,1288.6 L2195.0,1290.5 L2198.0,1292.4 L2201.0,1294.3 L2204.0,1296.2 L2207.0,1298.1 L2210.0,1300.0 L2213.0,1301.9 L2216.0,1303.8 L2219.0,1305.8 L2222.0,1307.7 L2225.0,1309.7 L2228.0,1311.6 L2231.0,1313.6 L2234.0,1315.5 L2237.0,1317.5 L2240.0,1319.5 L2243.0,1321.5 L2246.0,1323.5 L2249.0,1325.5 L2252.0,1327.5 L2255.0,1329.5 L2258.0,1331.5 L2261.0,1333.5 L2264.0,1335.5 L2267.0,1337.6 L2270.0,1339.6 L2273.0,1341.6 L2276.0,1343.7 L2279.0,1345.7 L2282.0,1347.7 L2285.0,1349.8 L2288.0,1351.8 L2291.0,1353.9 L2294.0,1355.9 L2297.0,1358.0 L2300.0,1360.0 L2303.0,1362.1 L2306.0,1364.1 L2309.0,1366.2 L2312.0,1368.2 L2315.0,1370.3 L2318.0,1372.4 L2321.0,1374.4 L2324.0,1376.5 L2324.5,1376.8" stroke="#F14040" stroke-width="4.5" fill="none" stroke-linejoin="round"/>
<path d="M1361.0,1167.7 L1364.0,1167.8 L1367.0,1168.0 L1370.0,1168.2 L1373.0,1168.4 L1376.0,1168.5 L1379.0,1168.7 L1382.0,1168.8 L1385.0,1169.0 L1388.0,1169.1 L1391.0,1169.2 L1394.0,1169.4 L1397.0,1169.5 L1400.0,1169.6 L1403.0,1169.7 L1406.0,1169.8 L1409.0,1169.9 L1412.0,1170.0 L1415.0,1170.1 L1418.0,1170.2 L1421.0,1170.3 L1424.0,1170.4 L1427.0,1170.5 L1430.0,1170.6 L1433.0,1170.6 L1436.0,1170.7 L1439.0,1170.8 L1442.0,1170.8 L1445.0,1170.9 L1448.0,1170.9 L1451.0,1171.0 L1454.0,1171.0 L1457.0,1171.1 L1460.0,1171.1 L1463.0,1171.2 L1466.0,1171.2 L1469.0,1171.2 L1472.0,1171.3 L1475.0,1171.3 L1478.0,1171.3 L1481.0,1171.3 L1484.0,1171.4 L1487.0,1171.4 L1490.0,1171.4 L1493.0,1171.4 L1496.0,1171.4 L1499.0,1171.5 L1502.0,1171.5 L1505.0,1171.5 L1508.0,1171.5 L1511.0,1171.5 L1514.0,1171.5 L1517.0,1171.5 L1520.0,1171.5 L1523.0,1171.5 L1526.0,1171.5 L1529.0,1171.5 L1532.0,1171.5 L1535.0,1171.5 L1538.0,1171.5 L1541.0,1171.5 L1544.0,1171.5 L1547.0,1171.5 L1550.0,1171.5 L1553.0,1171.5 L1556.0,1171.5 L1559.0,1171.5 L1562.0,1171.5 L1565.0,1171.5 L1568.0,1171.5 L1571.0,1171.5 L1574.0,1171.5 L1577.0,1171.5 L1580.0,1171.5 L1583.0,1171.5 L1586.0,1171.6 L1589.0,1171.6 L1592.0,1171.6 L1595.0,1171.6 L1598.0,1171.6 L1601.0,1171.6 L1604.0,1171.6 L1607.0,1171.6 L1610.0,1171.7 L1613.0,1171.7 L1616.0,1171.7 L1619.0,1171.7 L1622.0,1171.8 L1625.0,1171.8 L1628.0,1171.8 L1631.0,1171.9 L1634.0,1171.9 L1637.0,1172.0 L1640.0,1172.0 L1643.0,1172.1 L1646.0,1172.1 L1649.0,1172.2 L1652.0,1172.2 L1655.0,1172.3 L1658.0,1172.3 L1661.0,1172.4 L1664.0,1172.5 L1667.0,1172.6 L1670.0,1172.6 L1673.0,1172.7 L1676.0,1172.8 L1679.0,1172.9 L1682.0,1173.0 L1685.0,1173.1 L1688.0,1173.2 L1691.0,1173.3 L1694.0,1173.4 L1697.0,1173.6 L1700.0,1173.7 L1703.0,1173.8 L1706.0,1173.9 L1709.0,1174.1 L1712.0,1174.2 L1715.0,1174.4 L1718.0,1174.5 L1721.0,1174.7 L1724.0,1174.9 L1727.0,1175.0 L1730.0,1175.2 L1733.0,1175.4 L1736.0,1175.6 L1739.0,1175.8 L1742.0,1176.0 L1745.0,1176.2 L1748.0,1176.4 L1751.0,1176.7 L1754.0,1176.9 L1757.0,1177.1 L1760.0,1177.4 L1763.0,1177.6 L1766.0,1177.9 L1769.0,1178.1 L1772.0,1178.4 L1775.0,1178.7 L1778.0,1179.0 L1781.0,1179.3 L1784.0,1179.6 L1787.0,1179.9 L1790.0,1180.2 L1793.0,1180.5 L1796.0,1180.9 L1799.0,1181.2 L1802.0,1181.5 L1805.0,1181.9 L1808.0,1182.3 L1811.0,1182.6 L1814.0,1183.0 L1817.0,1183.4 L1820.0,1183.8 L1823.0,1184.2 L1826.0,1184.6 L1829.0,1185.1 L1832.0,1185.5 L1835.0,1186.0 L1838.0,1186.4 L1841.0,1186.9 L1844.0,1187.4 L1847.0,1187.8 L1850.0,1188.3 L1853.0,1188.8 L1856.0,1189.4 L1859.0,1189.9 L1862.0,1190.4 L1865.0,1191.0 L1868.0,1191.5 L1871.0,1192.1 L1874.0,1192.7 L1877.0,1193.2 L1880.0,1193.8 L1883.0,1194.4 L1886.0,1195.1 L1889.0,1195.7 L1892.0,1196.3 L1895.0,1197.0 L1898.0,1197.7 L1901.0,1198.3 L1904.0,1199.0 L1907.0,1199.7 L1910.0,1200.4 L1913.0,1201.1 L1916.0,1201.9 L1919.0,1202.6 L1922.0,1203.4 L1925.0,1204.2 L1928.0,1204.9 L1931.0,1205.7 L1934.0,1206.5 L1937.0,1207.4 L1940.0,1208.2 L1943.0,1209.0 L1946.0,1209.9 L1949.0,1210.8 L1952.0,1211.7 L1955.0,1212.6 L1958.0,1213.5 L1961.0,1214.4 L1964.0,1215.3 L1967.0,1216.3 L1970.0,1217.2 L1973.0,1218.2 L1976.0,1219.2 L1979.0,1220.2 L1982.0,1221.3 L1985.0,1222.3 L1988.0,1223.3 L1991.0,1224.4 L1994.0,1225.5 L1997.0,1226.6 L2000.0,1227.7 L2003.0,1228.8 L2006.0,1229.9 L2009.0,1231.1 L2012.0,1232.3 L2015.0,1233.4 L2018.0,1234.6 L2021.0,1235.9 L2024.0,1237.1 L2027.0,1238.3 L2030.0,1239.6 L2033.0,1240.9 L2036.0,1242.2 L2039.0,1243.5 L2042.0,1244.8 L2045.0,1246.1 L2048.0,1247.5 L2051.0,1248.9 L2054.0,1250.2 L2057.0,1251.7 L2060.0,1253.1 L2063.0,1254.5 L2066.0,1256.0 L2069.0,1257.4 L2072.0,1258.9 L2075.0,1260.4 L2078.0,1261.9 L2081.0,1263.4 L2084.0,1265.0 L2087.0,1266.5 L2090.0,1268.1 L2093.0,1269.7 L2096.0,1271.3 L2099.0,1272.9 L2102.0,1274.5 L2105.0,1276.2 L2108.0,1277.8 L2111.0,1279.5 L2114.0,1281.2 L2117.0,1282.8 L2120.0,1284.5 L2123.0,1286.2 L2126.0,1288.0 L2129.0,1289.7 L2132.0,1291.4 L2135.0,1293.2 L2138.0,1295.0 L2141.0,1296.7 L2144.0,1298.5 L2147.0,1300.3 L2150.0,1302.1 L2153.0,1304.0 L2156.0,1305.8 L2159.0,1307.6 L2162.0,1309.5 L2165.0,1311.3 L2168.0,1313.2 L2171.0,1315.1 L2174.0,1317.0 L2177.0,1318.8 L2180.0,1320.7 L2183.0,1322.6 L2186.0,1324.6 L2189.0,1326.5 L2192.0,1328.4 L2195.0,1330.4 L2198.0,1332.3 L2201.0,1334.2 L2204.0,1336.2 L2207.0,1338.2 L2210.0,1340.1 L2213.0,1342.1 L2216.0,1344.1 L2219.0,1346.1 L2222.0,1348.1 L2225.0,1350.1 L2228.0,1352.1 L2231.0,1354.1 L2234.0,1356.1 L2237.0,1358.1 L2240.0,1360.1 L2243.0,1362.2 L2246.0,1364.2 L2249.0,1366.2 L2252.0,1368.3 L2255.0,1370.3 L2258.0,1372.3 L2261.0,1374.4 L2264.0,1376.4 L2267.0,1378.5 L2270.0,1380.5 L2273.0,1382.6 L2276.0,1384.7 L2279.0,1386.7 L2282.0,1388.8 L2285.0,1390.8 L2288.0,1392.9 L2291.0,1395.0 L2294.0,1397.0 L2297.0,1399.1 L2300.0,1401.2 L2303.0,1403.2 L2306.0,1405.3 L2309.0,1407.4 L2312.0,1409.4 L2315.0,1411.5 L2318.0,1413.6 L2321.0,1415.6 L2324.0,1417.7 L2324.5,1418.0" stroke="#1A6FDF" stroke-width="4.5" fill="none" stroke-linejoin="round"/>
<path d="M1361.0,1177.5 L1364.0,1177.7 L1367.0,1177.9 L1370.0,1178.1 L1373.0,1178.2 L1376.0,1178.4 L1379.0,1178.6 L1382.0,1178.7 L1385.0,1178.9 L1388.0,1179.0 L1391.0,1179.2 L1394.0,1179.3 L1397.0,1179.5 L1400.0,1179.6 L1403.0,1179.7 L1406.0,1179.9 L1409.0,1180.0 L1412.0,1180.1 L1415.0,1180.2 L1418.0,1180.3 L1421.0,1180.4 L1424.0,1180.5 L1427.0,1180.6 L1430.0,1180.7 L1433.0,1180.8 L1436.0,1180.9 L1439.0,1181.0 L1442.0,1181.1 L1445.0,1181.2 L1448.0,1181.3 L1451.0,1181.4 L1454.0,1181.4 L1457.0,1181.5 L1460.0,1181.6 L1463.0,1181.7 L1466.0,1181.7 L1469.0,1181.8 L1472.0,1181.9 L1475.0,1181.9 L1478.0,1182.0 L1481.0,1182.1 L1484.0,1182.1 L1487.0,1182.2 L1490.0,1182.2 L1493.0,1182.3 L1496.0,1182.4 L1499.0,1182.4 L1502.0,1182.5 L1505.0,1182.5 L1508.0,1182.6 L1511.0,1182.6 L1514.0,1182.7 L1517.0,1182.7 L1520.0,1182.8 L1523.0,1182.9 L1526.0,1182.9 L1529.0,1183.0 L1532.0,1183.0 L1535.0,1183.1 L1538.0,1183.1 L1541.0,1183.2 L1544.0,1183.2 L1547.0,1183.3 L1550.0,1183.4 L1553.0,1183.4 L1556.0,1183.5 L1559.0,1183.5 L1562.0,1183.6 L1565.0,1183.7 L1568.0,1183.7 L1571.0,1183.8 L1574.0,1183.9 L1577.0,1183.9 L1580.0,1184.0 L1583.0,1184.1 L1586.0,1184.2 L1589.0,1184.2 L1592.0,1184.3 L1595.0,1184.4 L1598.0,1184.5 L1601.0,1184.6 L1604.0,1184.7 L1607.0,1184.8 L1610.0,1184.9 L1613.0,1185.0 L1616.0,1185.1 L1619.0,1185.2 L1622.0,1185.3 L1625.0,1185.4 L1628.0,1185.5 L1631.0,1185.6 L1634.0,1185.8 L1637.0,1185.9 L1640.0,1186.0 L1643.0,1186.1 L1646.0,1186.3 L1649.0,1186.4 L1652.0,1186.6 L1655.0,1186.7 L1658.0,1186.9 L1661.0,1187.0 L1664.0,1187.2 L1667.0,1187.4 L1670.0,1187.6 L1673.0,1187.7 L1676.0,1187.9 L1679.0,1188.1 L1682.0,1188.3 L1685.0,1188.5 L1688.0,1188.7 L1691.0,1188.9 L1694.0,1189.1 L1697.0,1189.4 L1700.0,1189.6 L1703.0,1189.8 L1706.0,1190.1 L1709.0,1190.3 L1712.0,1190.6 L1715.0,1190.8 L1718.0,1191.1 L1721.0,1191.4 L1724.0,1191.6 L1727.0,1191.9 L1730.0,1192.2 L1733.0,1192.5 L1736.0,1192.8 L1739.0,1193.1 L1742.0,1193.4 L1745.0,1193.8 L1748.0,1194.1 L1751.0,1194.5 L1754.0,1194.8 L1757.0,1195.2 L1760.0,1195.5 L1763.0,1195.9 L1766.0,1196.3 L1769.0,1196.7 L1772.0,1197.1 L1775.0,1197.5 L1778.0,1197.9 L1781.0,1198.3 L1784.0,1198.7 L1787.0,1199.2 L1790.0,1199.6 L1793.0,1200.1 L1796.0,1200.5 L1799.0,1201.0 L1802.0,1201.5 L1805.0,1202.0 L1808.0,1202.5 L1811.0,1203.0 L1814.0,1203.5 L1817.0,1204.1 L1820.0,1204.6 L1823.0,1205.1 L1826.0,1205.7 L1829.0,1206.3 L1832.0,1206.9 L1835.0,1207.4 L1838.0,1208.1 L1841.0,1208.7 L1844.0,1209.3 L1847.0,1209.9 L1850.0,1210.6 L1853.0,1211.2 L1856.0,1211.9 L1859.0,1212.6 L1862.0,1213.2 L1865.0,1213.9 L1868.0,1214.6 L1871.0,1215.4 L1874.0,1216.1 L1877.0,1216.8 L1880.0,1217.6 L1883.0,1218.4 L1886.0,1219.1 L1889.0,1219.9 L1892.0,1220.7 L1895.0,1221.6 L1898.0,1222.4 L1901.0,1223.2 L1904.0,1224.1 L1907.0,1224.9 L1910.0,1225.8 L1913.0,1226.7 L1916.0,1227.6 L1919.0,1228.5 L1922.0,1229.5 L1925.0,1230.4 L1928.0,1231.4 L1931.0,1232.3 L1934.0,1233.3 L1937.0,1234.3 L1940.0,1235.3 L1943.0,1236.3 L1946.0,1237.4 L1949.0,1238.4 L1952.0,1239.5 L1955.0,1240.6 L1958.0,1241.7 L1961.0,1242.8 L1964.0,1243.9 L1967.0,1245.0 L1970.0,1246.2 L1973.0,1247.4 L1976.0,1248.5 L1979.0,1249.7 L1982.0,1250.9 L1985.0,1252.2 L1988.0,1253.4 L1991.0,1254.7 L1994.0,1255.9 L1997.0,1257.2 L2000.0,1258.5 L2003.0,1259.8 L2006.0,1261.2 L2009.0,1262.5 L2012.0,1263.9 L2015.0,1265.3 L2018.0,1266.7 L2021.0,1268.1 L2024.0,1269.5 L2027.0,1271.0 L2030.0,1272.4 L2033.0,1273.9 L2036.0,1275.4 L2039.0,1276.9 L2042.0,1278.5 L2045.0,1280.0 L2048.0,1281.6 L2051.0,1283.2 L2054.0,1284.8 L2057.0,1286.4 L2060.0,1288.0 L2063.0,1289.7 L2066.0,1291.3 L2069.0,1293.0 L2072.0,1294.7 L2075.0,1296.4 L2078.0,1298.1 L2081.0,1299.9 L2084.0,1301.6 L2087.0,1303.4 L2090.0,1305.2 L2093.0,1307.0 L2096.0,1308.8 L2099.0,1310.6 L2102.0,1312.4 L2105.0,1314.2 L2108.0,1316.1 L2111.0,1318.0 L2114.0,1319.8 L2117.0,1321.7 L2120.0,1323.6 L2123.0,1325.5 L2126.0,1327.4 L2129.0,1329.3 L2132.0,1331.2 L2135.0,1333.1 L2138.0,1335.1 L2141.0,1337.0 L2144.0,1339.0 L2147.0,1340.9 L2150.0,1342.9 L2153.0,1344.8 L2156.0,1346.8 L2159.0,1348.8 L2162.0,1350.7 L2165.0,1352.7 L2168.0,1354.7 L2171.0,1356.7 L2174.0,1358.7 L2177.0,1360.7 L2180.0,1362.7 L2183.0,1364.7 L2186.0,1366.7 L2189.0,1368.6 L2192.0,1370.6 L2195.0,1372.6 L2198.0,1374.6 L2201.0,1376.6 L2204.0,1378.6 L2207.0,1380.6 L2210.0,1382.6 L2213.0,1384.6 L2216.0,1386.6 L2219.0,1388.6 L2222.0,1390.6 L2225.0,1392.6 L2228.0,1394.6 L2231.0,1396.6 L2234.0,1398.6 L2237.0,1400.5 L2240.0,1402.5 L2243.0,1404.5 L2246.0,1406.5 L2249.0,1408.5 L2252.0,1410.4 L2255.0,1412.4 L2258.0,1414.3 L2261.0,1416.3 L2264.0,1418.3 L2267.0,1420.2 L2270.0,1422.1 L2273.0,1424.1 L2276.0,1426.0 L2279.0,1427.9 L2282.0,1429.9 L2285.0,1431.8 L2288.0,1433.7 L2291.0,1435.6 L2294.0,1437.5 L2297.0,1439.4 L2300.0,1441.2 L2303.0,1443.1 L2306.0,1445.0 L2309.0,1446.8 L2312.0,1448.7 L2315.0,1450.5 L2318.0,1452.4 L2321.0,1454.2 L2324.0,1456.0 L2324.5,1456.3" stroke="#37AD6B" stroke-width="4.5" fill="none" stroke-linejoin="round"/>
<path d="M1361.0,1187.1 L1364.0,1187.4 L1367.0,1187.7 L1370.0,1188.0 L1373.0,1188.3 L1376.0,1188.6 L1379.0,1188.9 L1382.0,1189.2 L1385.0,1189.5 L1388.0,1189.7 L1391.0,1190.0 L1394.0,1190.2 L1397.0,1190.5 L1400.0,1190.7 L1403.0,1191.0 L1406.0,1191.2 L1409.0,1191.4 L1412.0,1191.6 L1415.0,1191.8 L1418.0,1192.0 L1421.0,1192.2 L1424.0,1192.4 L1427.0,1192.5 L1430.0,1192.7 L1433.0,1192.9 L1436.0,1193.0 L1439.0,1193.2 L1442.0,1193.3 L1445.0,1193.5 L1448.0,1193.6 L1451.0,1193.8 L1454.0,1193.9 L1457.0,1194.0 L1460.0,1194.1 L1463.0,1194.3 L1466.0,1194.4 L1469.0,1194.5 L1472.0,1194.6 L1475.0,1194.7 L1478.0,1194.8 L1481.0,1194.9 L1484.0,1195.0 L1487.0,1195.1 L1490.0,1195.2 L1493.0,1195.3 L1496.0,1195.4 L1499.0,1195.5 L1502.0,1195.5 L1505.0,1195.6 L1508.0,1195.7 L1511.0,1195.8 L1514.0,1195.9 L1517.0,1195.9 L1520.0,1196.0 L1523.0,1196.1 L1526.0,1196.2 L1529.0,1196.3 L1532.0,1196.3 L1535.0,1196.4 L1538.0,1196.5 L1541.0,1196.6 L1544.0,1196.7 L1547.0,1196.7 L1550.0,1196.8 L1553.0,1196.9 L1556.0,1197.0 L1559.0,1197.1 L1562.0,1197.2 L1565.0,1197.3 L1568.0,1197.3 L1571.0,1197.4 L1574.0,1197.5 L1577.0,1197.6 L1580.0,1197.7 L1583.0,1197.8 L1586.0,1198.0 L1589.0,1198.1 L1592.0,1198.2 L1595.0,1198.3 L1598.0,1198.4 L1601.0,1198.5 L1604.0,1198.7 L1607.0,1198.8 L1610.0,1199.0 L1613.0,1199.1 L1616.0,1199.2 L1619.0,1199.4 L1622.0,1199.6 L1625.0,1199.7 L1628.0,1199.9 L1631.0,1200.1 L1634.0,1200.2 L1637.0,1200.4 L1640.0,1200.6 L1643.0,1200.8 L1646.0,1201.0 L1649.0,1201.2 L1652.0,1201.5 L1655.0,1201.7 L1658.0,1201.9 L1661.0,1202.2 L1664.0,1202.4 L1667.0,1202.7 L1670.0,1202.9 L1673.0,1203.2 L1676.0,1203.5 L1679.0,1203.8 L1682.0,1204.1 L1685.0,1204.4 L1688.0,1204.7 L1691.0,1205.0 L1694.0,1205.3 L1697.0,1205.7 L1700.0,1206.0 L1703.0,1206.4 L1706.0,1206.8 L1709.0,1207.1 L1712.0,1207.5 L1715.0,1207.9 L1718.0,1208.3 L1721.0,1208.8 L1724.0,1209.2 L1727.0,1209.6 L1730.0,1210.1 L1733.0,1210.6 L1736.0,1211.0 L1739.0,1211.5 L1742.0,1212.0 L1745.0,1212.5 L1748.0,1213.0 L1751.0,1213.6 L1754.0,1214.1 L1757.0,1214.7 L1760.0,1215.2 L1763.0,1215.8 L1766.0,1216.4 L1769.0,1217.0 L1772.0,1217.6 L1775.0,1218.2 L1778.0,1218.8 L1781.0,1219.5 L1784.0,1220.1 L1787.0,1220.8 L1790.0,1221.5 L1793.0,1222.2 L1796.0,1222.9 L1799.0,1223.6 L1802.0,1224.3 L1805.0,1225.0 L1808.0,1225.8 L1811.0,1226.5 L1814.0,1227.3 L1817.0,1228.0 L1820.0,1228.8 L1823.0,1229.6 L1826.0,1230.4 L1829.0,1231.3 L1832.0,1232.1 L1835.0,1232.9 L1838.0,1233.8 L1841.0,1234.6 L1844.0,1235.5 L1847.0,1236.4 L1850.0,1237.3 L1853.0,1238.2 L1856.0,1239.1 L1859.0,1240.1 L1862.0,1241.0 L1865.0,1242.0 L1868.0,1242.9 L1871.0,1243.9 L1874.0,1244.9 L1877.0,1245.9 L1880.0,1246.9 L1883.0,1247.9 L1886.0,1249.0 L1889.0,1250.0 L1892.0,1251.1 L1895.0,1252.1 L1898.0,1253.2 L1901.0,1254.3 L1904.0,1255.4 L1907.0,1256.5 L1910.0,1257.6 L1913.0,1258.8 L1916.0,1259.9 L1919.0,1261.1 L1922.0,1262.2 L1925.0,1263.4 L1928.0,1264.6 L1931.0,1265.8 L1934.0,1267.0 L1937.0,1268.3 L1940.0,1269.5 L1943.0,1270.8 L1946.0,1272.0 L1949.0,1273.3 L1952.0,1274.6 L1955.0,1275.9 L1958.0,1277.2 L1961.0,1278.5 L1964.0,1279.8 L1967.0,1281.2 L1970.0,1282.5 L1973.0,1283.9 L1976.0,1285.3 L1979.0,1286.7 L1982.0,1288.1 L1985.0,1289.5 L1988.0,1290.9 L1991.0,1292.4 L1994.0,1293.8 L1997.0,1295.3 L2000.0,1296.7 L2003.0,1298.2 L2006.0,1299.7 L2009.0,1301.2 L2012.0,1302.8 L2015.0,1304.3 L2018.0,1305.8 L2021.0,1307.4 L2024.0,1308.9 L2027.0,1310.5 L2030.0,1312.1 L2033.0,1313.7 L2036.0,1315.3 L2039.0,1317.0 L2042.0,1318.6 L2045.0,1320.2 L2048.0,1321.9 L2051.0,1323.6 L2054.0,1325.3 L2057.0,1327.0 L2060.0,1328.7 L2063.0,1330.4 L2066.0,1332.1 L2069.0,1333.9 L2072.0,1335.6 L2075.0,1337.4 L2078.0,1339.2 L2081.0,1340.9 L2084.0,1342.7 L2087.0,1344.5 L2090.0,1346.3 L2093.0,1348.2 L2096.0,1350.0 L2099.0,1351.8 L2102.0,1353.7 L2105.0,1355.6 L2108.0,1357.4 L2111.0,1359.3 L2114.0,1361.2 L2117.0,1363.1 L2120.0,1365.0 L2123.0,1366.9 L2126.0,1368.8 L2129.0,1370.7 L2132.0,1372.7 L2135.0,1374.6 L2138.0,1376.5 L2141.0,1378.5 L2144.0,1380.4 L2147.0,1382.4 L2150.0,1384.4 L2153.0,1386.3 L2156.0,1388.3 L2159.0,1390.3 L2162.0,1392.3 L2165.0,1394.3 L2168.0,1396.2 L2171.0,1398.2 L2174.0,1400.2 L2177.0,1402.2 L2180.0,1404.2 L2183.0,1406.2 L2186.0,1408.2 L2189.0,1410.2 L2192.0,1412.2 L2195.0,1414.2 L2198.0,1416.3 L2201.0,1418.3 L2204.0,1420.3 L2207.0,1422.3 L2210.0,1424.3 L2213.0,1426.3 L2216.0,1428.3 L2219.0,1430.3 L2222.0,1432.3 L2225.0,1434.2 L2228.0,1436.2 L2231.0,1438.2 L2234.0,1440.2 L2237.0,1442.2 L2240.0,1444.1 L2243.0,1446.1 L2246.0,1448.1 L2249.0,1450.0 L2252.0,1452.0 L2255.0,1453.9 L2258.0,1455.8 L2261.0,1457.8 L2264.0,1459.7 L2267.0,1461.6 L2270.0,1463.5 L2273.0,1465.4 L2276.0,1467.3 L2279.0,1469.2 L2282.0,1471.0 L2285.0,1472.9 L2288.0,1474.7 L2291.0,1476.6 L2294.0,1478.4 L2297.0,1480.2 L2300.0,1482.0 L2303.0,1483.8 L2306.0,1485.6 L2309.0,1487.4 L2312.0,1489.1 L2315.0,1490.9 L2318.0,1492.6 L2321.0,1494.3 L2324.0,1496.0 L2324.5,1496.3" stroke="#B177DE" stroke-width="4.5" fill="none" stroke-linejoin="round"/>
<path d="M1361.0,1195.4 L1364.0,1195.5 L1367.0,1195.6 L1370.0,1195.7 L1373.0,1195.7 L1376.0,1195.8 L1379.0,1195.9 L1382.0,1196.0 L1385.0,1196.1 L1388.0,1196.2 L1391.0,1196.3 L1394.0,1196.4 L1397.0,1196.5 L1400.0,1196.6 L1403.0,1196.6 L1406.0,1196.7 L1409.0,1196.8 L1412.0,1196.9 L1415.0,1197.0 L1418.0,1197.1 L1421.0,1197.2 L1424.0,1197.4 L1427.0,1197.5 L1430.0,1197.6 L1433.0,1197.7 L1436.0,1197.8 L1439.0,1197.9 L1442.0,1198.0 L1445.0,1198.1 L1448.0,1198.3 L1451.0,1198.4 L1454.0,1198.5 L1457.0,1198.6 L1460.0,1198.8 L1463.0,1198.9 L1466.0,1199.0 L1469.0,1199.2 L1472.0,1199.3 L1475.0,1199.4 L1478.0,1199.6 L1481.0,1199.7 L1484.0,1199.9 L1487.0,1200.0 L1490.0,1200.2 L1493.0,1200.3 L1496.0,1200.5 L1499.0,1200.7 L1502.0,1200.8 L1505.0,1201.0 L1508.0,1201.2 L1511.0,1201.3 L1514.0,1201.5 L1517.0,1201.7 L1520.0,1201.9 L1523.0,1202.1 L1526.0,1202.3 L1529.0,1202.5 L1532.0,1202.7 L1535.0,1202.9 L1538.0,1203.1 L1541.0,1203.3 L1544.0,1203.5 L1547.0,1203.7 L1550.0,1204.0 L1553.0,1204.2 L1556.0,1204.4 L1559.0,1204.7 L1562.0,1204.9 L1565.0,1205.1 L1568.0,1205.4 L1571.0,1205.7 L1574.0,1205.9 L1577.0,1206.2 L1580.0,1206.4 L1583.0,1206.7 L1586.0,1207.0 L1589.0,1207.3 L1592.0,1207.6 L1595.0,1207.9 L1598.0,1208.2 L1601.0,1208.5 L1604.0,1208.8 L1607.0,1209.1 L1610.0,1209.4 L1613.0,1209.7 L1616.0,1210.1 L1619.0,1210.4 L1622.0,1210.7 L1625.0,1211.1 L1628.0,1211.4 L1631.0,1211.8 L1634.0,1212.2 L1637.0,1212.5 L1640.0,1212.9 L1643.0,1213.3 L1646.0,1213.7 L1649.0,1214.1 L1652.0,1214.5 L1655.0,1214.9 L1658.0,1215.3 L1661.0,1215.7 L1664.0,1216.1 L1667.0,1216.6 L1670.0,1217.0 L1673.0,1217.4 L1676.0,1217.9 L1679.0,1218.4 L1682.0,1218.8 L1685.0,1219.3 L1688.0,1219.8 L1691.0,1220.3 L1694.0,1220.8 L1697.0,1221.3 L1700.0,1221.8 L1703.0,1222.3 L1706.0,1222.8 L1709.0,1223.3 L1712.0,1223.9 L1715.0,1224.4 L1718.0,1225.0 L1721.0,1225.5 L1724.0,1226.1 L1727.0,1226.6 L1730.0,1227.2 L1733.0,1227.8 L1736.0,1228.4 L1739.0,1229.0 L1742.0,1229.6 L1745.0,1230.3 L1748.0,1230.9 L1751.0,1231.5 L1754.0,1232.2 L1757.0,1232.8 L1760.0,1233.5 L1763.0,1234.1 L1766.0,1234.8 L1769.0,1235.5 L1772.0,1236.2 L1775.0,1236.9 L1778.0,1237.6 L1781.0,1238.3 L1784.0,1239.1 L1787.0,1239.8 L1790.0,1240.6 L1793.0,1241.3 L1796.0,1242.1 L1799.0,1242.9 L1802.0,1243.7 L1805.0,1244.4 L1808.0,1245.2 L1811.0,1246.1 L1814.0,1246.9 L1817.0,1247.7 L1820.0,1248.6 L1823.0,1249.4 L1826.0,1250.3 L1829.0,1251.1 L1832.0,1252.0 L1835.0,1252.9 L1838.0,1253.8 L1841.0,1254.7 L1844.0,1255.6 L1847.0,1256.6 L1850.0,1257.5 L1853.0,1258.5 L1856.0,1259.4 L1859.0,1260.4 L1862.0,1261.4 L1865.0,1262.4 L1868.0,1263.4 L1871.0,1264.4 L1874.0,1265.4 L1877.0,1266.4 L1880.0,1267.5 L1883.0,1268.5 L1886.0,1269.6 L1889.0,1270.7 L1892.0,1271.8 L1895.0,1272.9 L1898.0,1274.0 L1901.0,1275.1 L1904.0,1276.2 L1907.0,1277.4 L1910.0,1278.5 L1913.0,1279.7 L1916.0,1280.9 L1919.0,1282.1 L1922.0,1283.3 L1925.0,1284.5 L1928.0,1285.7 L1931.0,1286.9 L1934.0,1288.2 L1937.0,1289.4 L1940.0,1290.7 L1943.0,1292.0 L1946.0,1293.3 L1949.0,1294.6 L1952.0,1295.9 L1955.0,1297.3 L1958.0,1298.6 L1961.0,1300.0 L1964.0,1301.3 L1967.0,1302.7 L1970.0,1304.1 L1973.0,1305.5 L1976.0,1306.9 L1979.0,1308.4 L1982.0,1309.8 L1985.0,1311.3 L1988.0,1312.8 L1991.0,1314.2 L1994.0,1315.7 L1997.0,1317.2 L2000.0,1318.8 L2003.0,1320.3 L2006.0,1321.9 L2009.0,1323.4 L2012.0,1325.0 L2015.0,1326.6 L2018.0,1328.2 L2021.0,1329.8 L2024.0,1331.4 L2027.0,1333.1 L2030.0,1334.7 L2033.0,1336.4 L2036.0,1338.1 L2039.0,1339.8 L2042.0,1341.5 L2045.0,1343.3 L2048.0,1345.0 L2051.0,1346.8 L2054.0,1348.5 L2057.0,1350.3 L2060.0,1352.1 L2063.0,1353.9 L2066.0,1355.7 L2069.0,1357.6 L2072.0,1359.4 L2075.0,1361.3 L2078.0,1363.2 L2081.0,1365.0 L2084.0,1366.9 L2087.0,1368.8 L2090.0,1370.7 L2093.0,1372.7 L2096.0,1374.6 L2099.0,1376.5 L2102.0,1378.5 L2105.0,1380.4 L2108.0,1382.4 L2111.0,1384.3 L2114.0,1386.3 L2117.0,1388.3 L2120.0,1390.3 L2123.0,1392.3 L2126.0,1394.2 L2129.0,1396.2 L2132.0,1398.2 L2135.0,1400.2 L2138.0,1402.3 L2141.0,1404.3 L2144.0,1406.3 L2147.0,1408.3 L2150.0,1410.3 L2153.0,1412.3 L2156.0,1414.3 L2159.0,1416.4 L2162.0,1418.4 L2165.0,1420.4 L2168.0,1422.4 L2171.0,1424.4 L2174.0,1426.4 L2177.0,1428.4 L2180.0,1430.4 L2183.0,1432.5 L2186.0,1434.5 L2189.0,1436.5 L2192.0,1438.4 L2195.0,1440.4 L2198.0,1442.4 L2201.0,1444.4 L2204.0,1446.4 L2207.0,1448.3 L2210.0,1450.3 L2213.0,1452.3 L2216.0,1454.2 L2219.0,1456.2 L2222.0,1458.1 L2225.0,1460.0 L2228.0,1461.9 L2231.0,1463.8 L2234.0,1465.7 L2237.0,1467.6 L2240.0,1469.5 L2243.0,1471.4 L2246.0,1473.2 L2249.0,1475.1 L2252.0,1476.9 L2255.0,1478.7 L2258.0,1480.5 L2261.0,1482.3 L2264.0,1484.1 L2267.0,1485.8 L2270.0,1487.6 L2273.0,1489.3 L2276.0,1491.1 L2279.0,1492.8 L2282.0,1494.5 L2285.0,1496.1 L2288.0,1497.8 L2291.0,1499.4 L2294.0,1501.1 L2297.0,1502.7 L2300.0,1504.2 L2303.0,1505.8 L2306.0,1507.4 L2309.0,1508.9 L2312.0,1510.4 L2315.0,1511.9 L2318.0,1513.4 L2321.0,1514.8 L2324.0,1516.2 L2324.5,1516.5" stroke="#CC9900" stroke-width="4.5" fill="none" stroke-linejoin="round"/>
<text transform="translate(1221.4,1013.7) scale(1.050,1)" font-size="100.0">(d)</text>
<text x="1287.2" y="1109.0" font-size="44.5">1.0</text>
<text x="1286.9" y="1251.0" font-size="44.5">0.8</text>
<text x="1286.7" y="1393.0" font-size="44.5">0.6</text>
<text x="1286.3" y="1535.0" font-size="44.5">0.4</text>
<text x="1287.4" y="1677.0" font-size="44.5">0.2</text>
<text x="1287.2" y="1819.0" font-size="44.5">0.0</text>
<text x="1443.6" y="1857.0" font-size="45.5">7</text>
<text x="1637.7" y="1857.0" font-size="45.5">8</text>
<text x="1831.2" y="1857.0" font-size="45.5">9</text>
<text x="2012.2" y="1857.0" font-size="45.5">10</text>
<text x="2207.1" y="1857.0" font-size="45.5">11</text>
<text transform="translate(1254.1,1626.4) rotate(-90) scale(1.020,1)" font-size="85.9">Absorption</text>
<text transform="translate(1528.7,1950.8) scale(0.988,1)" font-size="90.0">Wavelength(μm)</text>
<path d="M1461.9,1301.9H1562.5" stroke="#515151" stroke-width="5"/>
<path d="M1461.9,1369.9H1562.5" stroke="#F14040" stroke-width="5"/>
<path d="M1461.9,1438.3H1562.5" stroke="#1A6FDF" stroke-width="5"/>
<path d="M1461.9,1506.5H1562.5" stroke="#37AD6B" stroke-width="5"/>
<path d="M1461.9,1575.2H1562.5" stroke="#B177DE" stroke-width="5"/>
<path d="M1461.9,1644.2H1562.5" stroke="#CC9900" stroke-width="5"/>
<text transform="translate(1589.2,1320.6) scale(0.952,1)" font-size="61.3">950 nm</text>
<text transform="translate(1589.2,1388.4) scale(0.952,1)" font-size="61.3">951 nm</text>
<text transform="translate(1589.2,1456.6) scale(0.952,1)" font-size="61.3">952 nm</text>
<text transform="translate(1589.2,1524.8) scale(0.952,1)" font-size="61.3">953 nm</text>
<text transform="translate(1589.2,1593.0) scale(0.952,1)" font-size="61.3">954 nm</text>
<text transform="translate(1589.2,1661.7) scale(0.952,1)" font-size="61.3">955 nm</text>
</svg>
</body></html>
